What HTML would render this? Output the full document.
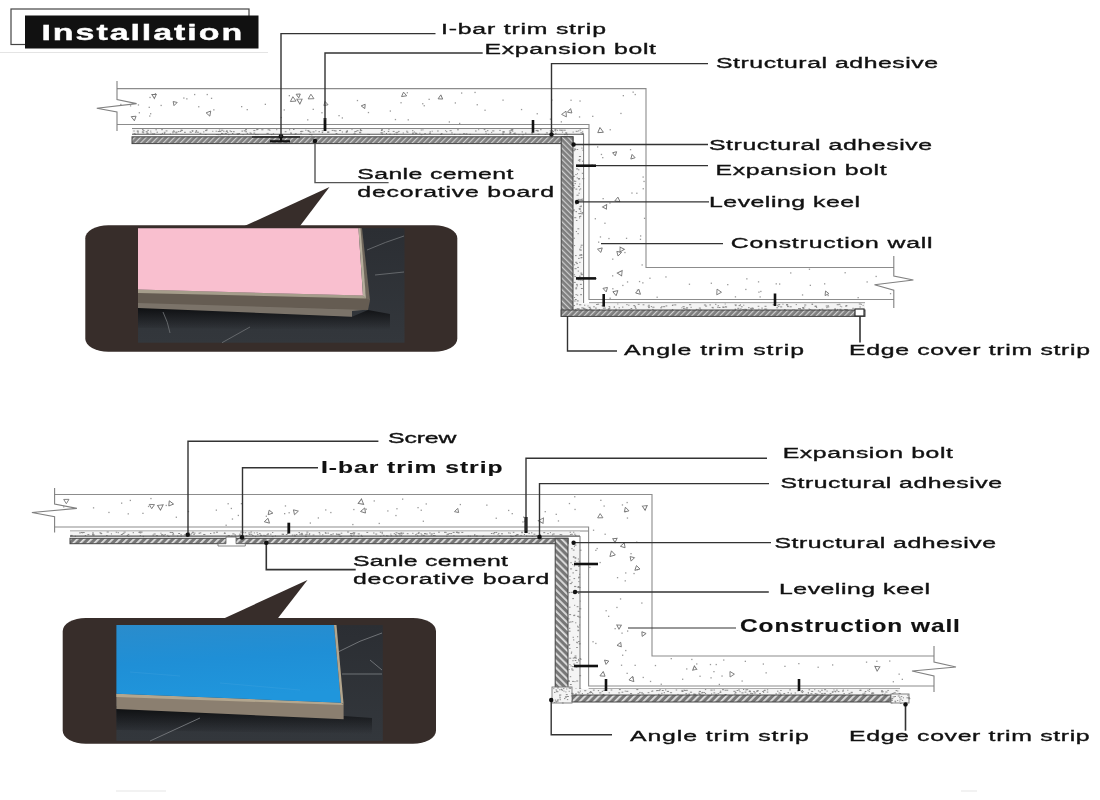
<!DOCTYPE html>
<html><head><meta charset="utf-8"><style>
html,body{margin:0;padding:0;background:#fff;width:1100px;height:800px;overflow:hidden}
svg{display:block;will-change:transform}
.lb{font-family:"Liberation Sans",sans-serif;fill:#111;stroke:#111;stroke-width:0.35px}
</style></head><body>
<svg width="1100" height="800" viewBox="0 0 1100 800">
<defs>
<pattern id="h1" patternUnits="userSpaceOnUse" width="4" height="4" patternTransform="rotate(45)"><rect width="4" height="4" fill="#7e7e7e"/><rect width="1.2" height="4" fill="#cfcfcf"/></pattern>
<pattern id="h2" patternUnits="userSpaceOnUse" width="5" height="5" patternTransform="rotate(45)"><rect width="5" height="5" fill="#777"/><rect width="1.8" height="5" fill="#e0e0e0"/></pattern>
<pattern id="h1v" patternUnits="userSpaceOnUse" width="4" height="4" patternTransform="rotate(-45)"><rect width="4" height="4" fill="#7e7e7e"/><rect width="1.2" height="4" fill="#cfcfcf"/></pattern>
<pattern id="h2v" patternUnits="userSpaceOnUse" width="5" height="5" patternTransform="rotate(-45)"><rect width="5" height="5" fill="#777"/><rect width="1.8" height="5" fill="#e0e0e0"/></pattern>
</defs>
<rect x="11" y="9" width="238" height="35.5" fill="#fff" stroke="#444" stroke-width="1.2"/>
<rect x="25" y="15.5" width="233.5" height="33" fill="#111" stroke="none" stroke-width="1"/>
<line x1="0" y1="52.5" x2="268" y2="52.5" stroke="#e4e4e4" stroke-width="1"/>
<text transform="translate(41.5,40) scale(1.58,1)" font-size="21.5" font-weight="bold" textLength="127" lengthAdjust="spacing" style="fill:#fff;stroke:#fff;stroke-width:0.4px;font-family:Liberation Sans">Installation</text>
<rect x="288.7" y="95.0" width="1.3" height="1.3" fill="#999"/>
<rect x="461.0" y="92.4" width="1.3" height="1.3" fill="#999"/>
<rect x="400.4" y="102.1" width="1.3" height="1.3" fill="#999"/>
<rect x="148.6" y="106.7" width="1.3" height="1.3" fill="#999"/>
<rect x="137.8" y="104.3" width="1.3" height="1.3" fill="#999"/>
<rect x="154.8" y="93.0" width="1.3" height="1.3" fill="#999"/>
<rect x="341.7" y="117.3" width="1.3" height="1.3" fill="#999"/>
<rect x="183.2" y="97.4" width="1.3" height="1.3" fill="#999"/>
<rect x="448.7" y="121.3" width="1.3" height="1.3" fill="#999"/>
<rect x="422.1" y="103.1" width="1.3" height="1.3" fill="#999"/>
<rect x="632.5" y="91.5" width="1.3" height="1.3" fill="#999"/>
<rect x="570.4" y="99.6" width="1.3" height="1.3" fill="#999"/>
<rect x="194.0" y="93.9" width="1.3" height="1.3" fill="#999"/>
<rect x="280.6" y="116.9" width="1.3" height="1.3" fill="#999"/>
<rect x="213.2" y="109.2" width="1.3" height="1.3" fill="#999"/>
<rect x="454.7" y="102.3" width="1.3" height="1.3" fill="#999"/>
<rect x="406.7" y="92.1" width="1.3" height="1.3" fill="#999"/>
<rect x="149.4" y="96.8" width="1.3" height="1.3" fill="#999"/>
<rect x="476.6" y="104.1" width="1.3" height="1.3" fill="#999"/>
<rect x="283.6" y="109.3" width="1.3" height="1.3" fill="#999"/>
<rect x="356.8" y="99.9" width="1.3" height="1.3" fill="#999"/>
<rect x="536.6" y="113.1" width="1.3" height="1.3" fill="#999"/>
<rect x="246.6" y="109.0" width="1.3" height="1.3" fill="#999"/>
<rect x="394.8" y="118.9" width="1.3" height="1.3" fill="#999"/>
<rect x="502.4" y="99.5" width="1.3" height="1.3" fill="#999"/>
<rect x="634.6" y="93.9" width="1.3" height="1.3" fill="#999"/>
<rect x="338.4" y="115.0" width="1.3" height="1.3" fill="#999"/>
<rect x="198.1" y="106.1" width="1.3" height="1.3" fill="#999"/>
<rect x="138.7" y="112.1" width="1.3" height="1.3" fill="#999"/>
<rect x="520.9" y="108.9" width="1.3" height="1.3" fill="#999"/>
<rect x="579.4" y="100.4" width="1.3" height="1.3" fill="#999"/>
<rect x="484.4" y="109.6" width="1.3" height="1.3" fill="#999"/>
<rect x="423.6" y="105.1" width="1.3" height="1.3" fill="#999"/>
<rect x="560.7" y="121.2" width="1.3" height="1.3" fill="#999"/>
<rect x="367.8" y="111.9" width="1.3" height="1.3" fill="#999"/>
<rect x="150.0" y="113.1" width="1.3" height="1.3" fill="#999"/>
<rect x="459.0" y="122.8" width="1.3" height="1.3" fill="#999"/>
<rect x="551.2" y="99.4" width="1.3" height="1.3" fill="#999"/>
<rect x="321.3" y="112.1" width="1.3" height="1.3" fill="#999"/>
<rect x="129.9" y="105.2" width="1.3" height="1.3" fill="#999"/>
<rect x="206.6" y="93.9" width="1.3" height="1.3" fill="#999"/>
<rect x="149.1" y="115.4" width="1.3" height="1.3" fill="#999"/>
<rect x="186.2" y="98.2" width="1.3" height="1.3" fill="#999"/>
<rect x="324.0" y="118.8" width="1.3" height="1.3" fill="#999"/>
<rect x="160.5" y="104.8" width="1.3" height="1.3" fill="#999"/>
<rect x="407.6" y="119.2" width="1.3" height="1.3" fill="#999"/>
<rect x="549.8" y="118.5" width="1.3" height="1.3" fill="#999"/>
<rect x="264.7" y="103.7" width="1.3" height="1.3" fill="#999"/>
<rect x="307.1" y="119.2" width="1.3" height="1.3" fill="#999"/>
<rect x="622.7" y="95.0" width="1.3" height="1.3" fill="#999"/>
<rect x="210.9" y="97.7" width="1.3" height="1.3" fill="#999"/>
<rect x="241.0" y="106.0" width="1.3" height="1.3" fill="#999"/>
<rect x="428.5" y="98.7" width="1.3" height="1.3" fill="#999"/>
<rect x="120.2" y="103.8" width="1.3" height="1.3" fill="#999"/>
<rect x="312.6" y="108.7" width="1.3" height="1.3" fill="#999"/>
<rect x="620.3" y="112.8" width="1.3" height="1.3" fill="#999"/>
<rect x="389.7" y="110.4" width="1.3" height="1.3" fill="#999"/>
<rect x="474.4" y="91.8" width="1.3" height="1.3" fill="#999"/>
<rect x="592.1" y="115.7" width="1.3" height="1.3" fill="#999"/>
<rect x="578.9" y="116.3" width="1.3" height="1.3" fill="#999"/>
<path d="M325.6,101.7 L327.9,105.3 L323.4,105.3Z" transform="rotate(228 325.6 104.0)" fill="none" stroke="#777" stroke-width="0.9"/>
<path d="M154.3,93.3 L156.7,97.1 L151.9,97.1Z" transform="rotate(58 154.3 95.7)" fill="none" stroke="#777" stroke-width="0.9"/>
<path d="M298.5,93.1 L300.7,96.6 L296.3,96.6Z" transform="rotate(54 298.5 95.3)" fill="none" stroke="#777" stroke-width="0.9"/>
<path d="M174.7,100.9 L176.9,104.4 L172.4,104.4Z" transform="rotate(315 174.7 103.1)" fill="none" stroke="#777" stroke-width="0.9"/>
<path d="M440.7,95.3 L443.1,99.2 L438.3,99.2Z" transform="rotate(125 440.7 97.7)" fill="none" stroke="#777" stroke-width="0.9"/>
<path d="M311.0,94.2 L313.9,98.8 L308.1,98.8Z" transform="rotate(358 311.0 97.1)" fill="none" stroke="#777" stroke-width="0.9"/>
<path d="M363.8,103.8 L366.1,107.5 L361.6,107.5Z" transform="rotate(37 363.8 106.1)" fill="none" stroke="#777" stroke-width="0.9"/>
<path d="M299.8,97.8 L302.7,102.3 L297.0,102.3Z" transform="rotate(58 299.8 100.6)" fill="none" stroke="#777" stroke-width="0.9"/>
<path d="M134.0,115.2 L136.6,119.3 L131.4,119.3Z" transform="rotate(53 134.0 117.8)" fill="none" stroke="#777" stroke-width="0.9"/>
<path d="M403.9,92.1 L406.5,96.2 L401.3,96.2Z" transform="rotate(352 403.9 94.7)" fill="none" stroke="#777" stroke-width="0.9"/>
<path d="M570.1,109.0 L572.5,112.9 L567.7,112.9Z" transform="rotate(132 570.1 111.4)" fill="none" stroke="#777" stroke-width="0.9"/>
<path d="M208.7,110.7 L211.3,114.9 L206.1,114.9Z" transform="rotate(280 208.7 113.3)" fill="none" stroke="#777" stroke-width="0.9"/>
<path d="M293.1,96.7 L295.9,101.3 L290.2,101.3Z" transform="rotate(355 293.1 99.6)" fill="none" stroke="#777" stroke-width="0.9"/>
<path d="M564.5,111.3 L567.4,115.9 L561.7,115.9Z" transform="rotate(266 564.5 114.2)" fill="none" stroke="#777" stroke-width="0.9"/>
<rect x="602.5" y="198.0" width="1.3" height="1.3" fill="#999"/>
<rect x="609.6" y="129.1" width="1.3" height="1.3" fill="#999"/>
<rect x="591.5" y="164.4" width="1.3" height="1.3" fill="#999"/>
<rect x="604.3" y="222.6" width="1.3" height="1.3" fill="#999"/>
<rect x="642.6" y="188.1" width="1.3" height="1.3" fill="#999"/>
<rect x="641.5" y="264.3" width="1.3" height="1.3" fill="#999"/>
<rect x="642.5" y="176.4" width="1.3" height="1.3" fill="#999"/>
<rect x="602.1" y="157.0" width="1.3" height="1.3" fill="#999"/>
<rect x="600.8" y="153.8" width="1.3" height="1.3" fill="#999"/>
<rect x="624.3" y="251.9" width="1.3" height="1.3" fill="#999"/>
<rect x="636.2" y="192.6" width="1.3" height="1.3" fill="#999"/>
<rect x="625.9" y="237.7" width="1.3" height="1.3" fill="#999"/>
<rect x="594.7" y="218.1" width="1.3" height="1.3" fill="#999"/>
<rect x="640.0" y="235.3" width="1.3" height="1.3" fill="#999"/>
<rect x="631.3" y="192.4" width="1.3" height="1.3" fill="#999"/>
<rect x="599.8" y="236.3" width="1.3" height="1.3" fill="#999"/>
<rect x="608.3" y="237.9" width="1.3" height="1.3" fill="#999"/>
<rect x="643.4" y="180.8" width="1.3" height="1.3" fill="#999"/>
<rect x="612.1" y="258.5" width="1.3" height="1.3" fill="#999"/>
<rect x="629.9" y="149.0" width="1.3" height="1.3" fill="#999"/>
<rect x="597.0" y="146.3" width="1.3" height="1.3" fill="#999"/>
<rect x="639.8" y="238.7" width="1.3" height="1.3" fill="#999"/>
<rect x="598.0" y="241.5" width="1.3" height="1.3" fill="#999"/>
<rect x="643.9" y="217.7" width="1.3" height="1.3" fill="#999"/>
<rect x="609.3" y="202.4" width="1.3" height="1.3" fill="#999"/>
<path d="M600.2,127.9 L603.1,132.7 L597.2,132.7Z" transform="rotate(234 600.2 130.9)" fill="none" stroke="#777" stroke-width="0.9"/>
<path d="M618.7,250.6 L621.3,254.7 L616.2,254.7Z" transform="rotate(314 618.7 253.2)" fill="none" stroke="#777" stroke-width="0.9"/>
<path d="M632.8,154.7 L635.2,158.5 L630.4,158.5Z" transform="rotate(105 632.8 157.1)" fill="none" stroke="#777" stroke-width="0.9"/>
<path d="M605.3,204.6 L607.7,208.4 L602.9,208.4Z" transform="rotate(151 605.3 207.0)" fill="none" stroke="#777" stroke-width="0.9"/>
<path d="M600.2,247.5 L602.6,251.5 L597.7,251.5Z" transform="rotate(165 600.2 250.0)" fill="none" stroke="#777" stroke-width="0.9"/>
<path d="M621.4,246.7 L624.0,250.8 L618.9,250.8Z" transform="rotate(330 621.4 249.3)" fill="none" stroke="#777" stroke-width="0.9"/>
<path d="M617.6,197.1 L620.2,201.3 L615.0,201.3Z" transform="rotate(7 617.6 199.7)" fill="none" stroke="#777" stroke-width="0.9"/>
<path d="M614.7,151.2 L616.9,154.7 L612.5,154.7Z" transform="rotate(288 614.7 153.4)" fill="none" stroke="#777" stroke-width="0.9"/>
<rect x="642.2" y="282.2" width="1.3" height="1.3" fill="#999"/>
<rect x="809.7" y="284.7" width="1.3" height="1.3" fill="#999"/>
<rect x="688.8" y="283.6" width="1.3" height="1.3" fill="#999"/>
<rect x="758.3" y="291.5" width="1.3" height="1.3" fill="#999"/>
<rect x="622.2" y="284.8" width="1.3" height="1.3" fill="#999"/>
<rect x="665.3" y="276.3" width="1.3" height="1.3" fill="#999"/>
<rect x="824.0" y="283.2" width="1.3" height="1.3" fill="#999"/>
<rect x="760.2" y="290.8" width="1.3" height="1.3" fill="#999"/>
<rect x="866.5" y="281.3" width="1.3" height="1.3" fill="#999"/>
<rect x="775.6" y="283.2" width="1.3" height="1.3" fill="#999"/>
<rect x="745.2" y="288.8" width="1.3" height="1.3" fill="#999"/>
<rect x="727.1" y="284.0" width="1.3" height="1.3" fill="#999"/>
<rect x="734.8" y="296.2" width="1.3" height="1.3" fill="#999"/>
<rect x="801.9" y="294.3" width="1.3" height="1.3" fill="#999"/>
<rect x="875.5" y="275.8" width="1.3" height="1.3" fill="#999"/>
<rect x="759.5" y="296.3" width="1.3" height="1.3" fill="#999"/>
<rect x="844.5" y="272.1" width="1.3" height="1.3" fill="#999"/>
<rect x="626.9" y="281.3" width="1.3" height="1.3" fill="#999"/>
<rect x="612.0" y="275.2" width="1.3" height="1.3" fill="#999"/>
<rect x="612.2" y="288.1" width="1.3" height="1.3" fill="#999"/>
<rect x="827.5" y="294.9" width="1.3" height="1.3" fill="#999"/>
<rect x="636.8" y="289.5" width="1.3" height="1.3" fill="#999"/>
<rect x="790.1" y="272.3" width="1.3" height="1.3" fill="#999"/>
<rect x="857.5" y="297.0" width="1.3" height="1.3" fill="#999"/>
<rect x="656.5" y="296.6" width="1.3" height="1.3" fill="#999"/>
<rect x="710.7" y="282.6" width="1.3" height="1.3" fill="#999"/>
<rect x="889.9" y="293.0" width="1.3" height="1.3" fill="#999"/>
<rect x="638.9" y="280.9" width="1.3" height="1.3" fill="#999"/>
<rect x="746.2" y="278.2" width="1.3" height="1.3" fill="#999"/>
<rect x="649.3" y="277.6" width="1.3" height="1.3" fill="#999"/>
<rect x="808.8" y="268.6" width="1.3" height="1.3" fill="#999"/>
<rect x="757.9" y="281.2" width="1.3" height="1.3" fill="#999"/>
<rect x="595.5" y="277.9" width="1.3" height="1.3" fill="#999"/>
<rect x="779.0" y="283.4" width="1.3" height="1.3" fill="#999"/>
<rect x="609.5" y="297.6" width="1.3" height="1.3" fill="#999"/>
<path d="M826.6,291.1 L828.9,294.7 L824.3,294.7Z" transform="rotate(96 826.6 293.4)" fill="none" stroke="#777" stroke-width="0.9"/>
<path d="M605.7,286.7 L608.1,290.6 L603.3,290.6Z" transform="rotate(47 605.7 289.1)" fill="none" stroke="#777" stroke-width="0.9"/>
<path d="M718.6,289.2 L721.4,293.8 L715.7,293.8Z" transform="rotate(93 718.6 292.1)" fill="none" stroke="#777" stroke-width="0.9"/>
<path d="M638.1,289.6 L640.7,293.8 L635.4,293.8Z" transform="rotate(252 638.1 292.2)" fill="none" stroke="#777" stroke-width="0.9"/>
<path d="M620.4,270.5 L623.1,274.9 L617.6,274.9Z" transform="rotate(153 620.4 273.3)" fill="none" stroke="#777" stroke-width="0.9"/>
<path d="M615.4,289.9 L618.1,294.3 L612.7,294.3Z" transform="rotate(289 615.4 292.6)" fill="none" stroke="#777" stroke-width="0.9"/>
<polyline points="117,88.6 646,88.6 646,267.5 894,267.5" stroke="#8c8c8c" stroke-width="1.1" fill="none"/>
<polyline points="117,124.5 589,124.5 589,299.5 894,299.5" stroke="#8c8c8c" stroke-width="1.1" fill="none"/>
<polyline points="117,81 117,99.5 136.6,103.6 96.8,108.2 117,112 117,131" stroke="#808080" stroke-width="1.1" fill="none"/>
<polyline points="893.8,256 893.8,276 913.4,280 874.5,284.7 893.8,290.2 893.8,308" stroke="#808080" stroke-width="1.1" fill="none"/>
<line x1="132" y1="128.5" x2="589" y2="128.5" stroke="#888" stroke-width="1"/>
<rect x="132" y="129" width="451.6" height="5.300000000000011" fill="#f4f4f4" stroke="none" stroke-width="1"/>
<rect x="169.8" y="133.5" width="1.1" height="1" fill="#8a8a8a"/>
<rect x="521.6" y="131.4" width="1.4" height="1" fill="#8a8a8a"/>
<rect x="381.8" y="133.9" width="1.3" height="1" fill="#8a8a8a"/>
<rect x="190.4" y="131.8" width="1.3" height="1" fill="#8a8a8a"/>
<rect x="181.4" y="129.9" width="1.1" height="1" fill="#8a8a8a"/>
<rect x="223.1" y="130.7" width="1.4" height="1" fill="#8a8a8a"/>
<rect x="475.0" y="130.5" width="1.6" height="1" fill="#8a8a8a"/>
<rect x="212.3" y="130.8" width="1.0" height="1" fill="#8a8a8a"/>
<rect x="245.1" y="129.1" width="1.9" height="1" fill="#8a8a8a"/>
<rect x="380.9" y="130.0" width="1.6" height="1" fill="#8a8a8a"/>
<rect x="554.1" y="129.6" width="2.0" height="1" fill="#8a8a8a"/>
<rect x="327.2" y="131.6" width="2.0" height="1" fill="#8a8a8a"/>
<rect x="309.5" y="131.7" width="1.8" height="1" fill="#8a8a8a"/>
<rect x="575.7" y="130.8" width="2.0" height="1" fill="#8a8a8a"/>
<rect x="451.2" y="132.4" width="1.5" height="1" fill="#8a8a8a"/>
<rect x="289.0" y="129.3" width="1.2" height="1" fill="#8a8a8a"/>
<rect x="163.9" y="132.9" width="1.3" height="1" fill="#8a8a8a"/>
<rect x="205.7" y="129.4" width="2.0" height="1" fill="#8a8a8a"/>
<rect x="525.1" y="132.6" width="1.3" height="1" fill="#8a8a8a"/>
<rect x="241.4" y="130.6" width="1.6" height="1" fill="#8a8a8a"/>
<rect x="203.1" y="131.4" width="1.3" height="1" fill="#8a8a8a"/>
<rect x="566.3" y="134.2" width="1.7" height="1" fill="#8a8a8a"/>
<rect x="242.4" y="134.1" width="1.4" height="1" fill="#8a8a8a"/>
<rect x="293.0" y="129.0" width="1.5" height="1" fill="#8a8a8a"/>
<rect x="346.3" y="131.7" width="1.2" height="1" fill="#8a8a8a"/>
<rect x="359.9" y="129.0" width="1.3" height="1" fill="#8a8a8a"/>
<rect x="172.5" y="131.1" width="1.1" height="1" fill="#8a8a8a"/>
<rect x="142.2" y="130.6" width="1.3" height="1" fill="#8a8a8a"/>
<rect x="396.4" y="131.8" width="1.9" height="1" fill="#8a8a8a"/>
<rect x="428.9" y="132.8" width="2.1" height="1" fill="#8a8a8a"/>
<rect x="307.9" y="130.7" width="2.2" height="1" fill="#8a8a8a"/>
<rect x="199.5" y="132.8" width="1.8" height="1" fill="#8a8a8a"/>
<rect x="151.8" y="133.4" width="2.1" height="1" fill="#8a8a8a"/>
<rect x="415.3" y="132.9" width="2.0" height="1" fill="#8a8a8a"/>
<rect x="194.9" y="131.8" width="1.6" height="1" fill="#8a8a8a"/>
<rect x="509.1" y="133.3" width="2.0" height="1" fill="#8a8a8a"/>
<rect x="395.8" y="133.7" width="1.8" height="1" fill="#8a8a8a"/>
<rect x="445.1" y="130.2" width="1.0" height="1" fill="#8a8a8a"/>
<rect x="192.1" y="130.9" width="1.1" height="1" fill="#8a8a8a"/>
<rect x="509.5" y="132.0" width="1.8" height="1" fill="#8a8a8a"/>
<rect x="414.8" y="132.6" width="1.6" height="1" fill="#8a8a8a"/>
<rect x="133.5" y="133.2" width="1.9" height="1" fill="#8a8a8a"/>
<rect x="359.1" y="131.8" width="1.8" height="1" fill="#8a8a8a"/>
<rect x="161.8" y="132.9" width="1.3" height="1" fill="#8a8a8a"/>
<rect x="165.6" y="130.4" width="1.9" height="1" fill="#8a8a8a"/>
<rect x="224.7" y="132.9" width="2.2" height="1" fill="#8a8a8a"/>
<rect x="355.1" y="131.0" width="1.6" height="1" fill="#8a8a8a"/>
<rect x="440.8" y="133.1" width="1.7" height="1" fill="#8a8a8a"/>
<rect x="422.3" y="129.4" width="1.2" height="1" fill="#8a8a8a"/>
<rect x="246.7" y="132.9" width="1.4" height="1" fill="#8a8a8a"/>
<rect x="388.4" y="129.1" width="1.1" height="1" fill="#8a8a8a"/>
<rect x="253.4" y="132.6" width="1.8" height="1" fill="#8a8a8a"/>
<rect x="437.1" y="130.5" width="1.6" height="1" fill="#8a8a8a"/>
<rect x="341.8" y="131.5" width="1.1" height="1" fill="#8a8a8a"/>
<rect x="535.6" y="130.1" width="2.2" height="1" fill="#8a8a8a"/>
<rect x="554.8" y="129.1" width="1.6" height="1" fill="#8a8a8a"/>
<rect x="502.3" y="134.1" width="1.5" height="1" fill="#8a8a8a"/>
<rect x="253.3" y="130.1" width="2.1" height="1" fill="#8a8a8a"/>
<rect x="227.2" y="132.1" width="1.2" height="1" fill="#8a8a8a"/>
<rect x="368.7" y="134.0" width="1.2" height="1" fill="#8a8a8a"/>
<rect x="502.4" y="131.7" width="2.1" height="1" fill="#8a8a8a"/>
<rect x="449.6" y="130.2" width="2.1" height="1" fill="#8a8a8a"/>
<rect x="351.5" y="129.1" width="1.0" height="1" fill="#8a8a8a"/>
<rect x="354.0" y="131.4" width="1.4" height="1" fill="#8a8a8a"/>
<rect x="195.5" y="130.8" width="1.4" height="1" fill="#8a8a8a"/>
<rect x="511.4" y="129.0" width="1.9" height="1" fill="#8a8a8a"/>
<rect x="510.9" y="129.6" width="2.1" height="1" fill="#8a8a8a"/>
<rect x="454.0" y="133.8" width="1.3" height="1" fill="#8a8a8a"/>
<rect x="300.1" y="131.1" width="2.2" height="1" fill="#8a8a8a"/>
<rect x="398.1" y="130.9" width="1.5" height="1" fill="#8a8a8a"/>
<rect x="256.3" y="129.3" width="1.1" height="1" fill="#8a8a8a"/>
<rect x="508.9" y="130.5" width="2.1" height="1" fill="#8a8a8a"/>
<rect x="244.6" y="130.4" width="1.6" height="1" fill="#8a8a8a"/>
<rect x="217.7" y="131.0" width="2.1" height="1" fill="#8a8a8a"/>
<rect x="531.3" y="133.3" width="1.8" height="1" fill="#8a8a8a"/>
<rect x="544.5" y="134.0" width="1.7" height="1" fill="#8a8a8a"/>
<rect x="457.0" y="129.3" width="1.9" height="1" fill="#8a8a8a"/>
<rect x="335.6" y="133.0" width="1.8" height="1" fill="#8a8a8a"/>
<rect x="261.3" y="129.3" width="2.1" height="1" fill="#8a8a8a"/>
<rect x="189.5" y="131.5" width="1.4" height="1" fill="#8a8a8a"/>
<rect x="266.5" y="132.9" width="2.2" height="1" fill="#8a8a8a"/>
<rect x="249.5" y="132.5" width="1.4" height="1" fill="#8a8a8a"/>
<rect x="383.7" y="131.1" width="1.2" height="1" fill="#8a8a8a"/>
<rect x="205.0" y="130.1" width="2.1" height="1" fill="#8a8a8a"/>
<rect x="356.5" y="130.2" width="2.1" height="1" fill="#8a8a8a"/>
<rect x="582.0" y="131.4" width="1.2" height="1" fill="#8a8a8a"/>
<rect x="218.9" y="129.5" width="1.4" height="1" fill="#8a8a8a"/>
<rect x="173.1" y="130.3" width="1.3" height="1" fill="#8a8a8a"/>
<rect x="389.2" y="133.7" width="1.9" height="1" fill="#8a8a8a"/>
<rect x="318.4" y="131.2" width="1.6" height="1" fill="#8a8a8a"/>
<rect x="302.2" y="130.8" width="1.1" height="1" fill="#8a8a8a"/>
<rect x="257.3" y="134.1" width="1.2" height="1" fill="#8a8a8a"/>
<rect x="359.3" y="132.3" width="2.0" height="1" fill="#8a8a8a"/>
<rect x="229.5" y="130.4" width="1.3" height="1" fill="#8a8a8a"/>
<rect x="312.5" y="131.4" width="2.1" height="1" fill="#8a8a8a"/>
<rect x="515.3" y="133.6" width="1.0" height="1" fill="#8a8a8a"/>
<rect x="146.6" y="132.8" width="2.1" height="1" fill="#8a8a8a"/>
<rect x="345.7" y="132.1" width="1.0" height="1" fill="#8a8a8a"/>
<rect x="308.8" y="133.9" width="2.0" height="1" fill="#8a8a8a"/>
<rect x="518.3" y="134.2" width="1.3" height="1" fill="#8a8a8a"/>
<rect x="181.2" y="129.8" width="1.6" height="1" fill="#8a8a8a"/>
<rect x="440.0" y="134.0" width="1.9" height="1" fill="#8a8a8a"/>
<rect x="424.3" y="133.1" width="1.5" height="1" fill="#8a8a8a"/>
<rect x="381.1" y="129.2" width="1.9" height="1" fill="#8a8a8a"/>
<rect x="237.0" y="133.9" width="1.8" height="1" fill="#8a8a8a"/>
<rect x="269.2" y="129.7" width="1.3" height="1" fill="#8a8a8a"/>
<rect x="419.3" y="132.7" width="1.1" height="1" fill="#8a8a8a"/>
<rect x="163.8" y="131.8" width="1.7" height="1" fill="#8a8a8a"/>
<rect x="307.3" y="130.2" width="1.7" height="1" fill="#8a8a8a"/>
<rect x="136.7" y="130.6" width="1.6" height="1" fill="#8a8a8a"/>
<rect x="565.1" y="132.4" width="2.1" height="1" fill="#8a8a8a"/>
<rect x="346.6" y="130.2" width="1.3" height="1" fill="#8a8a8a"/>
<rect x="565.8" y="132.7" width="1.4" height="1" fill="#8a8a8a"/>
<rect x="141.8" y="131.6" width="1.8" height="1" fill="#8a8a8a"/>
<rect x="321.7" y="130.4" width="1.8" height="1" fill="#8a8a8a"/>
<rect x="549.8" y="130.2" width="1.0" height="1" fill="#8a8a8a"/>
<rect x="284.7" y="131.2" width="1.8" height="1" fill="#8a8a8a"/>
<rect x="221.5" y="133.2" width="1.9" height="1" fill="#8a8a8a"/>
<rect x="360.0" y="130.1" width="2.2" height="1" fill="#8a8a8a"/>
<rect x="272.8" y="133.3" width="1.3" height="1" fill="#8a8a8a"/>
<rect x="232.0" y="133.0" width="1.4" height="1" fill="#8a8a8a"/>
<rect x="561.9" y="131.6" width="1.2" height="1" fill="#8a8a8a"/>
<rect x="232.9" y="131.2" width="1.8" height="1" fill="#8a8a8a"/>
<rect x="560.5" y="129.8" width="1.5" height="1" fill="#8a8a8a"/>
<rect x="228.2" y="134.2" width="1.2" height="1" fill="#8a8a8a"/>
<rect x="155.4" y="129.3" width="1.5" height="1" fill="#8a8a8a"/>
<rect x="537.6" y="133.7" width="1.9" height="1" fill="#8a8a8a"/>
<rect x="582.5" y="133.9" width="1.4" height="1" fill="#8a8a8a"/>
<rect x="215.8" y="134.0" width="1.9" height="1" fill="#8a8a8a"/>
<rect x="146.4" y="132.5" width="1.5" height="1" fill="#8a8a8a"/>
<rect x="300.8" y="130.8" width="1.2" height="1" fill="#8a8a8a"/>
<rect x="133.3" y="130.5" width="1.4" height="1" fill="#8a8a8a"/>
<rect x="563.5" y="129.7" width="2.2" height="1" fill="#8a8a8a"/>
<rect x="225.7" y="130.9" width="2.0" height="1" fill="#8a8a8a"/>
<rect x="503.2" y="131.3" width="1.1" height="1" fill="#8a8a8a"/>
<rect x="345.8" y="131.0" width="2.1" height="1" fill="#8a8a8a"/>
<rect x="219.2" y="130.9" width="2.1" height="1" fill="#8a8a8a"/>
<rect x="145.7" y="131.2" width="2.0" height="1" fill="#8a8a8a"/>
<rect x="478.2" y="129.2" width="1.0" height="1" fill="#8a8a8a"/>
<rect x="160.3" y="133.9" width="1.3" height="1" fill="#8a8a8a"/>
<rect x="469.5" y="133.8" width="1.4" height="1" fill="#8a8a8a"/>
<rect x="255.0" y="134.1" width="1.7" height="1" fill="#8a8a8a"/>
<rect x="250.4" y="132.8" width="1.4" height="1" fill="#8a8a8a"/>
<rect x="256.5" y="129.0" width="1.9" height="1" fill="#8a8a8a"/>
<rect x="545.9" y="132.4" width="2.1" height="1" fill="#8a8a8a"/>
<rect x="143.0" y="130.2" width="1.6" height="1" fill="#8a8a8a"/>
<rect x="564.1" y="134.1" width="1.5" height="1" fill="#8a8a8a"/>
<rect x="245.4" y="131.3" width="1.6" height="1" fill="#8a8a8a"/>
<rect x="551.1" y="130.0" width="2.0" height="1" fill="#8a8a8a"/>
<rect x="465.5" y="133.4" width="1.9" height="1" fill="#8a8a8a"/>
<rect x="406.2" y="130.7" width="1.4" height="1" fill="#8a8a8a"/>
<rect x="295.4" y="133.1" width="1.1" height="1" fill="#8a8a8a"/>
<rect x="221.1" y="133.0" width="1.3" height="1" fill="#8a8a8a"/>
<rect x="161.2" y="129.2" width="1.7" height="1" fill="#8a8a8a"/>
<rect x="279.1" y="134.2" width="2.1" height="1" fill="#8a8a8a"/>
<rect x="578.1" y="130.4" width="1.1" height="1" fill="#8a8a8a"/>
<rect x="175.5" y="131.6" width="1.9" height="1" fill="#8a8a8a"/>
<rect x="333.8" y="130.2" width="1.5" height="1" fill="#8a8a8a"/>
<rect x="412.1" y="132.6" width="1.9" height="1" fill="#8a8a8a"/>
<rect x="514.5" y="132.5" width="1.1" height="1" fill="#8a8a8a"/>
<rect x="511.7" y="130.6" width="1.7" height="1" fill="#8a8a8a"/>
<rect x="300.4" y="132.9" width="1.2" height="1" fill="#8a8a8a"/>
<rect x="243.7" y="130.3" width="1.2" height="1" fill="#8a8a8a"/>
<rect x="531.3" y="132.1" width="1.4" height="1" fill="#8a8a8a"/>
<rect x="310.9" y="134.3" width="1.6" height="1" fill="#8a8a8a"/>
<rect x="236.5" y="133.3" width="1.8" height="1" fill="#8a8a8a"/>
<rect x="579.5" y="129.5" width="1.6" height="1" fill="#8a8a8a"/>
<rect x="501.9" y="133.5" width="2.1" height="1" fill="#8a8a8a"/>
<rect x="150.2" y="130.6" width="1.1" height="1" fill="#8a8a8a"/>
<rect x="217.6" y="134.2" width="1.7" height="1" fill="#8a8a8a"/>
<rect x="552.1" y="131.0" width="2.0" height="1" fill="#8a8a8a"/>
<rect x="334.8" y="130.4" width="1.9" height="1" fill="#8a8a8a"/>
<rect x="559.1" y="129.6" width="1.7" height="1" fill="#8a8a8a"/>
<rect x="412.0" y="130.2" width="1.4" height="1" fill="#8a8a8a"/>
<rect x="195.8" y="130.1" width="1.3" height="1" fill="#8a8a8a"/>
<rect x="402.7" y="132.5" width="1.2" height="1" fill="#8a8a8a"/>
<rect x="137.1" y="130.7" width="1.8" height="1" fill="#8a8a8a"/>
<rect x="215.6" y="130.7" width="1.2" height="1" fill="#8a8a8a"/>
<rect x="491.1" y="131.9" width="1.1" height="1" fill="#8a8a8a"/>
<rect x="177.8" y="131.1" width="1.7" height="1" fill="#8a8a8a"/>
<rect x="420.7" y="129.5" width="1.2" height="1" fill="#8a8a8a"/>
<rect x="446.0" y="131.2" width="1.3" height="1" fill="#8a8a8a"/>
<rect x="270.9" y="134.1" width="1.4" height="1" fill="#8a8a8a"/>
<rect x="387.8" y="130.9" width="1.5" height="1" fill="#8a8a8a"/>
<rect x="522.3" y="134.3" width="1.4" height="1" fill="#8a8a8a"/>
<rect x="221.1" y="132.9" width="1.2" height="1" fill="#8a8a8a"/>
<rect x="134.7" y="133.8" width="1.5" height="1" fill="#8a8a8a"/>
<rect x="502.5" y="131.2" width="2.1" height="1" fill="#8a8a8a"/>
<rect x="340.1" y="129.9" width="1.0" height="1" fill="#8a8a8a"/>
<rect x="381.1" y="132.4" width="2.1" height="1" fill="#8a8a8a"/>
<rect x="172.2" y="132.3" width="1.4" height="1" fill="#8a8a8a"/>
<rect x="359.8" y="129.8" width="1.3" height="1" fill="#8a8a8a"/>
<rect x="367.4" y="133.9" width="1.1" height="1" fill="#8a8a8a"/>
<rect x="353.5" y="133.3" width="2.2" height="1" fill="#8a8a8a"/>
<rect x="221.1" y="129.7" width="2.1" height="1" fill="#8a8a8a"/>
<rect x="572.6" y="131.6" width="1.1" height="1" fill="#8a8a8a"/>
<rect x="550.3" y="131.1" width="2.1" height="1" fill="#8a8a8a"/>
<rect x="412.1" y="133.4" width="1.2" height="1" fill="#8a8a8a"/>
<rect x="486.9" y="130.2" width="1.5" height="1" fill="#8a8a8a"/>
<rect x="514.2" y="133.4" width="1.2" height="1" fill="#8a8a8a"/>
<rect x="230.5" y="131.1" width="1.6" height="1" fill="#8a8a8a"/>
<rect x="305.2" y="129.7" width="1.3" height="1" fill="#8a8a8a"/>
<rect x="459.4" y="133.8" width="1.0" height="1" fill="#8a8a8a"/>
<rect x="386.0" y="133.0" width="1.0" height="1" fill="#8a8a8a"/>
<rect x="510.5" y="129.6" width="1.7" height="1" fill="#8a8a8a"/>
<rect x="380.4" y="132.3" width="1.4" height="1" fill="#8a8a8a"/>
<rect x="321.7" y="132.1" width="1.5" height="1" fill="#8a8a8a"/>
<rect x="429.5" y="131.4" width="1.5" height="1" fill="#8a8a8a"/>
<rect x="142.6" y="132.3" width="1.6" height="1" fill="#8a8a8a"/>
<rect x="238.2" y="133.0" width="1.9" height="1" fill="#8a8a8a"/>
<rect x="339.0" y="130.0" width="1.6" height="1" fill="#8a8a8a"/>
<rect x="180.4" y="129.7" width="1.5" height="1" fill="#8a8a8a"/>
<rect x="173.4" y="131.3" width="1.6" height="1" fill="#8a8a8a"/>
<rect x="150.4" y="132.4" width="1.1" height="1" fill="#8a8a8a"/>
<rect x="463.2" y="133.1" width="1.6" height="1" fill="#8a8a8a"/>
<rect x="156.5" y="131.7" width="1.5" height="1" fill="#8a8a8a"/>
<rect x="561.4" y="129.7" width="2.0" height="1" fill="#8a8a8a"/>
<rect x="581.8" y="132.9" width="2.0" height="1" fill="#8a8a8a"/>
<rect x="219.5" y="134.2" width="1.6" height="1" fill="#8a8a8a"/>
<rect x="564.0" y="133.9" width="1.2" height="1" fill="#8a8a8a"/>
<rect x="488.0" y="133.9" width="1.1" height="1" fill="#8a8a8a"/>
<rect x="290.5" y="133.0" width="1.2" height="1" fill="#8a8a8a"/>
<rect x="536.9" y="130.5" width="2.0" height="1" fill="#8a8a8a"/>
<rect x="196.8" y="131.7" width="2.1" height="1" fill="#8a8a8a"/>
<rect x="226.1" y="130.4" width="1.6" height="1" fill="#8a8a8a"/>
<rect x="276.1" y="129.2" width="1.2" height="1" fill="#8a8a8a"/>
<rect x="204.8" y="134.0" width="1.8" height="1" fill="#8a8a8a"/>
<rect x="536.4" y="129.9" width="1.9" height="1" fill="#8a8a8a"/>
<rect x="184.0" y="131.8" width="1.8" height="1" fill="#8a8a8a"/>
<rect x="294.5" y="133.6" width="1.7" height="1" fill="#8a8a8a"/>
<rect x="393.9" y="133.7" width="1.1" height="1" fill="#8a8a8a"/>
<rect x="580.4" y="132.3" width="1.5" height="1" fill="#8a8a8a"/>
<rect x="492.2" y="130.4" width="2.2" height="1" fill="#8a8a8a"/>
<rect x="392.7" y="130.9" width="1.9" height="1" fill="#8a8a8a"/>
<rect x="331.7" y="129.9" width="1.9" height="1" fill="#8a8a8a"/>
<rect x="153.8" y="133.3" width="1.3" height="1" fill="#8a8a8a"/>
<rect x="420.7" y="134.2" width="1.7" height="1" fill="#8a8a8a"/>
<rect x="431.7" y="130.7" width="1.0" height="1" fill="#8a8a8a"/>
<rect x="147.3" y="129.8" width="1.7" height="1" fill="#8a8a8a"/>
<rect x="327.2" y="131.7" width="2.1" height="1" fill="#8a8a8a"/>
<rect x="191.6" y="130.2" width="1.8" height="1" fill="#8a8a8a"/>
<rect x="142.1" y="129.0" width="1.4" height="1" fill="#8a8a8a"/>
<rect x="180.0" y="130.9" width="1.3" height="1" fill="#8a8a8a"/>
<rect x="395.5" y="132.1" width="1.2" height="1" fill="#8a8a8a"/>
<rect x="413.8" y="131.5" width="1.2" height="1" fill="#8a8a8a"/>
<rect x="555.0" y="130.3" width="1.2" height="1" fill="#8a8a8a"/>
<rect x="175.3" y="132.4" width="2.0" height="1" fill="#8a8a8a"/>
<rect x="485.2" y="131.1" width="1.3" height="1" fill="#8a8a8a"/>
<rect x="137.2" y="132.4" width="1.7" height="1" fill="#8a8a8a"/>
<rect x="290.2" y="132.4" width="1.5" height="1" fill="#8a8a8a"/>
<rect x="555.2" y="132.9" width="1.3" height="1" fill="#8a8a8a"/>
<rect x="540.0" y="129.2" width="1.6" height="1" fill="#8a8a8a"/>
<rect x="315.3" y="130.3" width="1.1" height="1" fill="#8a8a8a"/>
<rect x="483.7" y="129.1" width="1.7" height="1" fill="#8a8a8a"/>
<rect x="556.9" y="129.8" width="1.2" height="1" fill="#8a8a8a"/>
<rect x="406.6" y="131.7" width="1.8" height="1" fill="#8a8a8a"/>
<rect x="499.3" y="129.9" width="1.4" height="1" fill="#8a8a8a"/>
<rect x="267.6" y="129.3" width="2.1" height="1" fill="#8a8a8a"/>
<rect x="485.6" y="132.8" width="1.0" height="1" fill="#8a8a8a"/>
<rect x="513.3" y="132.9" width="1.6" height="1" fill="#8a8a8a"/>
<line x1="132" y1="134.3" x2="583.6" y2="134.3" stroke="#555" stroke-width="1.1"/>
<rect x="573" y="143.6" width="9.5" height="159.4" fill="#f4f4f4" stroke="none" stroke-width="1"/>
<rect x="580.0" y="215.7" width="1.3" height="1" fill="#8a8a8a"/>
<rect x="574.0" y="180.6" width="1.0" height="1" fill="#8a8a8a"/>
<rect x="576.2" y="263.1" width="1.8" height="1" fill="#8a8a8a"/>
<rect x="581.0" y="257.0" width="1.3" height="1" fill="#8a8a8a"/>
<rect x="578.3" y="213.1" width="1.9" height="1" fill="#8a8a8a"/>
<rect x="578.0" y="185.9" width="1.8" height="1" fill="#8a8a8a"/>
<rect x="582.2" y="178.2" width="2.1" height="1" fill="#8a8a8a"/>
<rect x="573.1" y="185.1" width="1.3" height="1" fill="#8a8a8a"/>
<rect x="580.1" y="294.2" width="1.9" height="1" fill="#8a8a8a"/>
<rect x="576.1" y="283.9" width="1.4" height="1" fill="#8a8a8a"/>
<rect x="575.3" y="288.3" width="1.8" height="1" fill="#8a8a8a"/>
<rect x="579.6" y="249.6" width="2.2" height="1" fill="#8a8a8a"/>
<rect x="577.5" y="277.4" width="1.8" height="1" fill="#8a8a8a"/>
<rect x="581.1" y="213.3" width="1.9" height="1" fill="#8a8a8a"/>
<rect x="578.4" y="192.7" width="1.3" height="1" fill="#8a8a8a"/>
<rect x="578.9" y="156.0" width="2.1" height="1" fill="#8a8a8a"/>
<rect x="574.4" y="147.9" width="1.1" height="1" fill="#8a8a8a"/>
<rect x="581.8" y="198.6" width="1.2" height="1" fill="#8a8a8a"/>
<rect x="573.3" y="150.2" width="1.8" height="1" fill="#8a8a8a"/>
<rect x="579.0" y="254.7" width="1.9" height="1" fill="#8a8a8a"/>
<rect x="573.6" y="237.7" width="1.4" height="1" fill="#8a8a8a"/>
<rect x="580.8" y="274.2" width="2.1" height="1" fill="#8a8a8a"/>
<rect x="573.6" y="281.9" width="2.1" height="1" fill="#8a8a8a"/>
<rect x="582.0" y="160.7" width="1.2" height="1" fill="#8a8a8a"/>
<rect x="574.1" y="149.1" width="2.0" height="1" fill="#8a8a8a"/>
<rect x="580.7" y="244.7" width="2.0" height="1" fill="#8a8a8a"/>
<rect x="579.0" y="189.4" width="1.1" height="1" fill="#8a8a8a"/>
<rect x="573.9" y="264.3" width="1.2" height="1" fill="#8a8a8a"/>
<rect x="576.0" y="211.1" width="1.0" height="1" fill="#8a8a8a"/>
<rect x="575.4" y="188.6" width="1.9" height="1" fill="#8a8a8a"/>
<rect x="576.5" y="194.7" width="2.2" height="1" fill="#8a8a8a"/>
<rect x="577.8" y="279.3" width="1.7" height="1" fill="#8a8a8a"/>
<rect x="573.3" y="209.4" width="1.5" height="1" fill="#8a8a8a"/>
<rect x="580.3" y="198.9" width="1.8" height="1" fill="#8a8a8a"/>
<rect x="578.1" y="178.1" width="2.0" height="1" fill="#8a8a8a"/>
<rect x="573.9" y="274.3" width="1.2" height="1" fill="#8a8a8a"/>
<rect x="573.0" y="175.8" width="1.9" height="1" fill="#8a8a8a"/>
<rect x="582.3" y="144.3" width="1.6" height="1" fill="#8a8a8a"/>
<rect x="577.7" y="270.6" width="1.2" height="1" fill="#8a8a8a"/>
<rect x="577.7" y="198.9" width="2.0" height="1" fill="#8a8a8a"/>
<rect x="575.5" y="294.1" width="1.3" height="1" fill="#8a8a8a"/>
<rect x="575.0" y="255.1" width="1.6" height="1" fill="#8a8a8a"/>
<rect x="574.0" y="245.1" width="1.1" height="1" fill="#8a8a8a"/>
<rect x="580.5" y="254.7" width="1.9" height="1" fill="#8a8a8a"/>
<rect x="579.0" y="200.3" width="1.5" height="1" fill="#8a8a8a"/>
<rect x="576.7" y="285.5" width="1.1" height="1" fill="#8a8a8a"/>
<rect x="581.4" y="147.6" width="1.2" height="1" fill="#8a8a8a"/>
<rect x="575.5" y="287.3" width="1.6" height="1" fill="#8a8a8a"/>
<rect x="576.6" y="284.5" width="1.3" height="1" fill="#8a8a8a"/>
<rect x="577.4" y="228.3" width="1.9" height="1" fill="#8a8a8a"/>
<rect x="580.2" y="246.6" width="1.4" height="1" fill="#8a8a8a"/>
<rect x="576.1" y="168.4" width="2.0" height="1" fill="#8a8a8a"/>
<rect x="579.3" y="261.9" width="1.2" height="1" fill="#8a8a8a"/>
<rect x="577.2" y="266.9" width="1.7" height="1" fill="#8a8a8a"/>
<rect x="574.2" y="217.2" width="2.1" height="1" fill="#8a8a8a"/>
<rect x="575.3" y="174.1" width="1.4" height="1" fill="#8a8a8a"/>
<rect x="579.7" y="278.1" width="1.2" height="1" fill="#8a8a8a"/>
<rect x="574.5" y="183.1" width="1.4" height="1" fill="#8a8a8a"/>
<rect x="578.0" y="169.3" width="1.4" height="1" fill="#8a8a8a"/>
<rect x="574.8" y="299.0" width="1.9" height="1" fill="#8a8a8a"/>
<rect x="574.0" y="297.0" width="1.1" height="1" fill="#8a8a8a"/>
<rect x="576.7" y="300.4" width="2.0" height="1" fill="#8a8a8a"/>
<rect x="580.0" y="212.9" width="1.2" height="1" fill="#8a8a8a"/>
<rect x="579.1" y="160.6" width="1.2" height="1" fill="#8a8a8a"/>
<rect x="576.7" y="149.0" width="1.5" height="1" fill="#8a8a8a"/>
<rect x="580.5" y="254.1" width="1.6" height="1" fill="#8a8a8a"/>
<rect x="579.0" y="217.4" width="1.2" height="1" fill="#8a8a8a"/>
<rect x="578.7" y="208.1" width="1.9" height="1" fill="#8a8a8a"/>
<rect x="581.6" y="212.1" width="1.7" height="1" fill="#8a8a8a"/>
<rect x="580.1" y="210.7" width="1.3" height="1" fill="#8a8a8a"/>
<rect x="579.9" y="283.9" width="1.9" height="1" fill="#8a8a8a"/>
<rect x="579.7" y="279.5" width="1.8" height="1" fill="#8a8a8a"/>
<rect x="579.1" y="216.0" width="1.4" height="1" fill="#8a8a8a"/>
<rect x="579.0" y="159.2" width="1.5" height="1" fill="#8a8a8a"/>
<rect x="580.4" y="257.3" width="1.8" height="1" fill="#8a8a8a"/>
<rect x="575.4" y="211.1" width="1.5" height="1" fill="#8a8a8a"/>
<rect x="578.9" y="208.8" width="1.8" height="1" fill="#8a8a8a"/>
<rect x="581.8" y="172.8" width="1.8" height="1" fill="#8a8a8a"/>
<rect x="580.4" y="205.6" width="1.6" height="1" fill="#8a8a8a"/>
<rect x="582.3" y="149.7" width="1.7" height="1" fill="#8a8a8a"/>
<rect x="574.5" y="268.2" width="2.1" height="1" fill="#8a8a8a"/>
<rect x="577.9" y="159.7" width="1.7" height="1" fill="#8a8a8a"/>
<rect x="578.1" y="257.9" width="1.6" height="1" fill="#8a8a8a"/>
<rect x="579.1" y="275.7" width="1.6" height="1" fill="#8a8a8a"/>
<rect x="576.9" y="294.7" width="1.3" height="1" fill="#8a8a8a"/>
<rect x="579.5" y="206.2" width="1.9" height="1" fill="#8a8a8a"/>
<rect x="574.2" y="300.5" width="1.4" height="1" fill="#8a8a8a"/>
<rect x="573.5" y="187.3" width="1.5" height="1" fill="#8a8a8a"/>
<rect x="573.1" y="210.3" width="1.5" height="1" fill="#8a8a8a"/>
<rect x="579.6" y="199.7" width="1.3" height="1" fill="#8a8a8a"/>
<rect x="575.1" y="261.8" width="2.1" height="1" fill="#8a8a8a"/>
<rect x="578.0" y="178.5" width="2.0" height="1" fill="#8a8a8a"/>
<rect x="576.7" y="177.4" width="1.2" height="1" fill="#8a8a8a"/>
<rect x="580.4" y="272.6" width="1.8" height="1" fill="#8a8a8a"/>
<rect x="577.5" y="233.2" width="1.3" height="1" fill="#8a8a8a"/>
<rect x="582.2" y="199.9" width="1.8" height="1" fill="#8a8a8a"/>
<rect x="580.8" y="273.7" width="1.6" height="1" fill="#8a8a8a"/>
<rect x="575.8" y="231.0" width="1.2" height="1" fill="#8a8a8a"/>
<rect x="580.9" y="200.1" width="2.0" height="1" fill="#8a8a8a"/>
<rect x="575.5" y="203.6" width="1.3" height="1" fill="#8a8a8a"/>
<rect x="577.0" y="173.2" width="1.0" height="1" fill="#8a8a8a"/>
<rect x="579.9" y="188.4" width="1.3" height="1" fill="#8a8a8a"/>
<rect x="575.9" y="220.0" width="1.5" height="1" fill="#8a8a8a"/>
<rect x="579.1" y="248.7" width="1.4" height="1" fill="#8a8a8a"/>
<rect x="581.8" y="279.8" width="1.1" height="1" fill="#8a8a8a"/>
<rect x="580.9" y="288.0" width="1.9" height="1" fill="#8a8a8a"/>
<rect x="574.3" y="276.1" width="1.8" height="1" fill="#8a8a8a"/>
<rect x="573.1" y="145.4" width="2.1" height="1" fill="#8a8a8a"/>
<rect x="579.2" y="183.5" width="1.1" height="1" fill="#8a8a8a"/>
<rect x="574.4" y="180.8" width="1.9" height="1" fill="#8a8a8a"/>
<line x1="583.6" y1="134.3" x2="583.6" y2="303" stroke="#777" stroke-width="1"/>
<line x1="589" y1="302.8" x2="865" y2="302.8" stroke="#888" stroke-width="1"/>
<rect x="573" y="303.4" width="292" height="6.600000000000023" fill="#f4f4f4" stroke="none" stroke-width="1"/>
<rect x="674.2" y="304.4" width="2.1" height="1" fill="#8a8a8a"/>
<rect x="804.2" y="304.5" width="2.1" height="1" fill="#8a8a8a"/>
<rect x="750.6" y="308.6" width="1.8" height="1" fill="#8a8a8a"/>
<rect x="834.0" y="308.6" width="2.0" height="1" fill="#8a8a8a"/>
<rect x="630.6" y="308.0" width="1.6" height="1" fill="#8a8a8a"/>
<rect x="789.6" y="306.3" width="2.1" height="1" fill="#8a8a8a"/>
<rect x="735.1" y="305.1" width="1.3" height="1" fill="#8a8a8a"/>
<rect x="613.7" y="306.7" width="1.1" height="1" fill="#8a8a8a"/>
<rect x="709.4" y="304.4" width="1.6" height="1" fill="#8a8a8a"/>
<rect x="718.5" y="307.0" width="2.0" height="1" fill="#8a8a8a"/>
<rect x="574.9" y="308.9" width="1.6" height="1" fill="#8a8a8a"/>
<rect x="737.3" y="307.8" width="2.0" height="1" fill="#8a8a8a"/>
<rect x="682.5" y="306.2" width="2.2" height="1" fill="#8a8a8a"/>
<rect x="595.0" y="307.6" width="1.8" height="1" fill="#8a8a8a"/>
<rect x="581.3" y="307.4" width="1.8" height="1" fill="#8a8a8a"/>
<rect x="845.0" y="305.6" width="2.2" height="1" fill="#8a8a8a"/>
<rect x="722.1" y="306.6" width="2.1" height="1" fill="#8a8a8a"/>
<rect x="582.9" y="308.1" width="1.8" height="1" fill="#8a8a8a"/>
<rect x="671.9" y="309.1" width="1.4" height="1" fill="#8a8a8a"/>
<rect x="711.6" y="306.9" width="1.9" height="1" fill="#8a8a8a"/>
<rect x="634.5" y="306.3" width="1.5" height="1" fill="#8a8a8a"/>
<rect x="734.8" y="308.9" width="1.4" height="1" fill="#8a8a8a"/>
<rect x="814.7" y="306.1" width="1.6" height="1" fill="#8a8a8a"/>
<rect x="652.3" y="306.7" width="2.2" height="1" fill="#8a8a8a"/>
<rect x="764.1" y="308.6" width="1.4" height="1" fill="#8a8a8a"/>
<rect x="665.6" y="305.4" width="1.7" height="1" fill="#8a8a8a"/>
<rect x="758.4" y="308.6" width="1.0" height="1" fill="#8a8a8a"/>
<rect x="784.0" y="309.2" width="1.7" height="1" fill="#8a8a8a"/>
<rect x="587.5" y="305.4" width="1.0" height="1" fill="#8a8a8a"/>
<rect x="628.5" y="309.5" width="1.7" height="1" fill="#8a8a8a"/>
<rect x="765.1" y="308.6" width="2.1" height="1" fill="#8a8a8a"/>
<rect x="751.6" y="307.5" width="1.8" height="1" fill="#8a8a8a"/>
<rect x="776.3" y="307.3" width="1.8" height="1" fill="#8a8a8a"/>
<rect x="635.1" y="307.8" width="1.5" height="1" fill="#8a8a8a"/>
<rect x="795.7" y="304.1" width="1.2" height="1" fill="#8a8a8a"/>
<rect x="583.8" y="308.5" width="2.1" height="1" fill="#8a8a8a"/>
<rect x="764.5" y="305.8" width="2.0" height="1" fill="#8a8a8a"/>
<rect x="802.7" y="307.1" width="1.3" height="1" fill="#8a8a8a"/>
<rect x="661.2" y="306.2" width="1.4" height="1" fill="#8a8a8a"/>
<rect x="698.8" y="307.6" width="2.1" height="1" fill="#8a8a8a"/>
<rect x="588.9" y="307.1" width="1.0" height="1" fill="#8a8a8a"/>
<rect x="607.7" y="308.7" width="1.7" height="1" fill="#8a8a8a"/>
<rect x="841.2" y="306.3" width="1.0" height="1" fill="#8a8a8a"/>
<rect x="686.0" y="307.3" width="2.1" height="1" fill="#8a8a8a"/>
<rect x="859.4" y="306.5" width="1.5" height="1" fill="#8a8a8a"/>
<rect x="602.8" y="307.7" width="1.3" height="1" fill="#8a8a8a"/>
<rect x="617.3" y="303.5" width="1.0" height="1" fill="#8a8a8a"/>
<rect x="772.7" y="304.2" width="2.2" height="1" fill="#8a8a8a"/>
<rect x="598.7" y="309.1" width="1.2" height="1" fill="#8a8a8a"/>
<rect x="578.2" y="308.1" width="1.3" height="1" fill="#8a8a8a"/>
<rect x="787.2" y="304.6" width="1.1" height="1" fill="#8a8a8a"/>
<rect x="799.0" y="308.1" width="2.0" height="1" fill="#8a8a8a"/>
<rect x="786.1" y="304.0" width="1.8" height="1" fill="#8a8a8a"/>
<rect x="780.1" y="306.4" width="2.1" height="1" fill="#8a8a8a"/>
<rect x="647.2" y="309.8" width="1.9" height="1" fill="#8a8a8a"/>
<rect x="576.3" y="303.5" width="1.8" height="1" fill="#8a8a8a"/>
<rect x="811.7" y="303.9" width="1.4" height="1" fill="#8a8a8a"/>
<rect x="786.0" y="304.5" width="2.0" height="1" fill="#8a8a8a"/>
<rect x="715.0" y="303.8" width="1.4" height="1" fill="#8a8a8a"/>
<rect x="740.9" y="306.3" width="1.8" height="1" fill="#8a8a8a"/>
<rect x="615.3" y="308.7" width="1.4" height="1" fill="#8a8a8a"/>
<rect x="761.3" y="307.6" width="1.5" height="1" fill="#8a8a8a"/>
<rect x="685.6" y="308.6" width="2.1" height="1" fill="#8a8a8a"/>
<rect x="802.1" y="307.1" width="1.4" height="1" fill="#8a8a8a"/>
<rect x="590.7" y="309.8" width="1.8" height="1" fill="#8a8a8a"/>
<rect x="814.6" y="305.6" width="1.7" height="1" fill="#8a8a8a"/>
<rect x="858.4" y="308.9" width="1.7" height="1" fill="#8a8a8a"/>
<rect x="663.1" y="306.2" width="2.1" height="1" fill="#8a8a8a"/>
<rect x="683.0" y="307.9" width="1.7" height="1" fill="#8a8a8a"/>
<rect x="834.7" y="308.7" width="1.3" height="1" fill="#8a8a8a"/>
<rect x="573.5" y="305.1" width="1.5" height="1" fill="#8a8a8a"/>
<rect x="744.3" y="308.8" width="2.1" height="1" fill="#8a8a8a"/>
<rect x="585.4" y="308.9" width="2.0" height="1" fill="#8a8a8a"/>
<rect x="826.2" y="307.2" width="1.3" height="1" fill="#8a8a8a"/>
<rect x="821.5" y="308.7" width="1.8" height="1" fill="#8a8a8a"/>
<rect x="839.8" y="305.7" width="1.1" height="1" fill="#8a8a8a"/>
<rect x="734.7" y="308.7" width="1.2" height="1" fill="#8a8a8a"/>
<rect x="792.1" y="309.5" width="1.3" height="1" fill="#8a8a8a"/>
<rect x="750.2" y="307.9" width="1.6" height="1" fill="#8a8a8a"/>
<rect x="633.3" y="305.1" width="1.9" height="1" fill="#8a8a8a"/>
<rect x="804.2" y="306.4" width="1.1" height="1" fill="#8a8a8a"/>
<rect x="808.5" y="308.5" width="1.3" height="1" fill="#8a8a8a"/>
<rect x="742.2" y="309.3" width="2.1" height="1" fill="#8a8a8a"/>
<rect x="725.4" y="306.5" width="1.7" height="1" fill="#8a8a8a"/>
<rect x="628.2" y="304.7" width="1.2" height="1" fill="#8a8a8a"/>
<rect x="777.7" y="305.8" width="1.7" height="1" fill="#8a8a8a"/>
<rect x="690.5" y="306.8" width="1.2" height="1" fill="#8a8a8a"/>
<rect x="586.0" y="310.0" width="1.4" height="1" fill="#8a8a8a"/>
<rect x="604.0" y="307.6" width="1.9" height="1" fill="#8a8a8a"/>
<rect x="618.6" y="307.3" width="1.4" height="1" fill="#8a8a8a"/>
<rect x="724.7" y="303.5" width="1.0" height="1" fill="#8a8a8a"/>
<rect x="862.2" y="309.1" width="1.6" height="1" fill="#8a8a8a"/>
<rect x="738.6" y="305.1" width="1.9" height="1" fill="#8a8a8a"/>
<rect x="697.4" y="309.6" width="1.9" height="1" fill="#8a8a8a"/>
<rect x="812.1" y="309.8" width="1.3" height="1" fill="#8a8a8a"/>
<rect x="584.1" y="304.7" width="1.2" height="1" fill="#8a8a8a"/>
<rect x="597.4" y="303.7" width="1.7" height="1" fill="#8a8a8a"/>
<rect x="827.2" y="306.4" width="2.1" height="1" fill="#8a8a8a"/>
<rect x="838.7" y="303.8" width="1.7" height="1" fill="#8a8a8a"/>
<rect x="689.0" y="304.2" width="2.2" height="1" fill="#8a8a8a"/>
<rect x="648.1" y="307.1" width="1.8" height="1" fill="#8a8a8a"/>
<rect x="852.3" y="307.8" width="1.5" height="1" fill="#8a8a8a"/>
<rect x="703.9" y="304.5" width="2.2" height="1" fill="#8a8a8a"/>
<rect x="862.6" y="304.9" width="1.0" height="1" fill="#8a8a8a"/>
<rect x="647.7" y="305.7" width="2.1" height="1" fill="#8a8a8a"/>
<rect x="837.1" y="308.9" width="1.1" height="1" fill="#8a8a8a"/>
<rect x="802.6" y="308.1" width="1.8" height="1" fill="#8a8a8a"/>
<rect x="860.7" y="303.8" width="1.2" height="1" fill="#8a8a8a"/>
<rect x="793.4" y="309.6" width="1.8" height="1" fill="#8a8a8a"/>
<rect x="660.2" y="307.3" width="1.9" height="1" fill="#8a8a8a"/>
<rect x="603.8" y="305.5" width="1.3" height="1" fill="#8a8a8a"/>
<rect x="609.2" y="306.6" width="1.2" height="1" fill="#8a8a8a"/>
<rect x="642.6" y="304.3" width="1.8" height="1" fill="#8a8a8a"/>
<rect x="576.7" y="308.1" width="1.2" height="1" fill="#8a8a8a"/>
<rect x="583.5" y="309.5" width="1.3" height="1" fill="#8a8a8a"/>
<rect x="845.7" y="309.1" width="2.1" height="1" fill="#8a8a8a"/>
<rect x="613.8" y="306.4" width="1.1" height="1" fill="#8a8a8a"/>
<rect x="844.2" y="309.0" width="1.8" height="1" fill="#8a8a8a"/>
<rect x="705.1" y="305.6" width="2.0" height="1" fill="#8a8a8a"/>
<rect x="712.4" y="307.5" width="1.2" height="1" fill="#8a8a8a"/>
<rect x="637.7" y="303.8" width="1.9" height="1" fill="#8a8a8a"/>
<rect x="734.6" y="304.4" width="2.0" height="1" fill="#8a8a8a"/>
<rect x="650.8" y="306.1" width="1.2" height="1" fill="#8a8a8a"/>
<rect x="652.2" y="308.9" width="1.4" height="1" fill="#8a8a8a"/>
<rect x="622.0" y="306.6" width="1.4" height="1" fill="#8a8a8a"/>
<rect x="836.7" y="304.2" width="2.2" height="1" fill="#8a8a8a"/>
<rect x="589.6" y="309.3" width="1.8" height="1" fill="#8a8a8a"/>
<rect x="634.7" y="306.6" width="1.3" height="1" fill="#8a8a8a"/>
<rect x="648.3" y="304.7" width="1.4" height="1" fill="#8a8a8a"/>
<rect x="862.4" y="310.0" width="2.1" height="1" fill="#8a8a8a"/>
<rect x="601.5" y="305.3" width="2.1" height="1" fill="#8a8a8a"/>
<rect x="589.8" y="308.2" width="1.4" height="1" fill="#8a8a8a"/>
<rect x="858.8" y="303.5" width="2.0" height="1" fill="#8a8a8a"/>
<rect x="672.5" y="304.3" width="1.0" height="1" fill="#8a8a8a"/>
<rect x="816.0" y="306.9" width="1.2" height="1" fill="#8a8a8a"/>
<rect x="700.1" y="309.4" width="1.3" height="1" fill="#8a8a8a"/>
<rect x="739.8" y="304.3" width="1.2" height="1" fill="#8a8a8a"/>
<rect x="798.0" y="308.1" width="1.2" height="1" fill="#8a8a8a"/>
<rect x="596.1" y="304.0" width="1.7" height="1" fill="#8a8a8a"/>
<rect x="717.7" y="305.2" width="1.2" height="1" fill="#8a8a8a"/>
<rect x="751.8" y="308.1" width="2.0" height="1" fill="#8a8a8a"/>
<rect x="743.2" y="304.7" width="1.1" height="1" fill="#8a8a8a"/>
<rect x="787.0" y="306.1" width="1.9" height="1" fill="#8a8a8a"/>
<rect x="589.2" y="308.8" width="1.4" height="1" fill="#8a8a8a"/>
<rect x="818.8" y="309.1" width="1.6" height="1" fill="#8a8a8a"/>
<rect x="577.5" y="309.4" width="1.6" height="1" fill="#8a8a8a"/>
<rect x="827.6" y="305.2" width="1.2" height="1" fill="#8a8a8a"/>
<rect x="815.8" y="305.8" width="1.2" height="1" fill="#8a8a8a"/>
<rect x="681.4" y="307.3" width="1.0" height="1" fill="#8a8a8a"/>
<rect x="724.8" y="306.3" width="1.6" height="1" fill="#8a8a8a"/>
<rect x="608.3" y="308.1" width="2.0" height="1" fill="#8a8a8a"/>
<rect x="825.7" y="305.5" width="1.9" height="1" fill="#8a8a8a"/>
<rect x="684.4" y="308.4" width="1.1" height="1" fill="#8a8a8a"/>
<rect x="827.9" y="309.7" width="1.6" height="1" fill="#8a8a8a"/>
<rect x="722.9" y="306.9" width="1.6" height="1" fill="#8a8a8a"/>
<rect x="579.0" y="309.8" width="1.3" height="1" fill="#8a8a8a"/>
<rect x="626.3" y="304.1" width="1.3" height="1" fill="#8a8a8a"/>
<rect x="811.6" y="303.6" width="1.1" height="1" fill="#8a8a8a"/>
<rect x="777.1" y="304.7" width="1.0" height="1" fill="#8a8a8a"/>
<rect x="748.0" y="307.2" width="1.6" height="1" fill="#8a8a8a"/>
<rect x="778.2" y="304.1" width="2.0" height="1" fill="#8a8a8a"/>
<rect x="782.4" y="303.7" width="1.1" height="1" fill="#8a8a8a"/>
<rect x="717.1" y="306.7" width="1.3" height="1" fill="#8a8a8a"/>
<rect x="608.6" y="306.1" width="1.2" height="1" fill="#8a8a8a"/>
<rect x="745.8" y="309.1" width="1.2" height="1" fill="#8a8a8a"/>
<rect x="740.3" y="308.3" width="1.2" height="1" fill="#8a8a8a"/>
<rect x="814.2" y="309.6" width="1.5" height="1" fill="#8a8a8a"/>
<rect x="695.8" y="308.9" width="1.6" height="1" fill="#8a8a8a"/>
<rect x="688.5" y="309.6" width="1.9" height="1" fill="#8a8a8a"/>
<rect x="671.9" y="305.0" width="1.4" height="1" fill="#8a8a8a"/>
<rect x="700.2" y="309.9" width="2.0" height="1" fill="#8a8a8a"/>
<rect x="839.5" y="308.8" width="2.0" height="1" fill="#8a8a8a"/>
<rect x="588.6" y="306.8" width="2.1" height="1" fill="#8a8a8a"/>
<rect x="845.8" y="305.0" width="1.5" height="1" fill="#8a8a8a"/>
<rect x="757.7" y="305.8" width="1.6" height="1" fill="#8a8a8a"/>
<rect x="593.2" y="306.3" width="1.6" height="1" fill="#8a8a8a"/>
<rect x="579.1" y="304.3" width="2.2" height="1" fill="#8a8a8a"/>
<rect x="799.8" y="309.6" width="1.8" height="1" fill="#8a8a8a"/>
<rect x="809.3" y="309.2" width="2.1" height="1" fill="#8a8a8a"/>
<rect x="583.0" y="307.6" width="1.3" height="1" fill="#8a8a8a"/>
<rect x="132" y="136.8" width="441" height="6.799999999999983" fill="url(#h1)" stroke="#444" stroke-width="1"/>
<rect x="561.2" y="136.8" width="11.799999999999955" height="179.59999999999997" fill="url(#h1v)" stroke="#444" stroke-width="1"/>
<rect x="561.2" y="310" width="303.79999999999995" height="6.399999999999977" fill="url(#h1)" stroke="#444" stroke-width="1"/>
<rect x="855" y="309" width="9" height="7" fill="#fff" stroke="#333" stroke-width="1.2"/>
<line x1="533" y1="120" x2="533" y2="132.7" stroke="#111" stroke-width="2.6"/>
<line x1="325" y1="118" x2="325" y2="131" stroke="#111" stroke-width="2.8"/>
<line x1="576" y1="165.7" x2="596" y2="165.7" stroke="#111" stroke-width="2.6"/>
<line x1="576" y1="278.4" x2="596" y2="278.4" stroke="#111" stroke-width="2.6"/>
<line x1="603.7" y1="294" x2="603.7" y2="306.6" stroke="#111" stroke-width="2.6"/>
<line x1="775" y1="293.5" x2="775" y2="306" stroke="#111" stroke-width="2.6"/>
<line x1="270" y1="141.3" x2="290" y2="141.3" stroke="#111" stroke-width="2.2"/>
<line x1="281" y1="136" x2="281" y2="141.3" stroke="#111" stroke-width="2.2"/>
<line x1="252" y1="137" x2="300" y2="137" stroke="#222" stroke-width="1.4"/>
<circle cx="281" cy="136.3" r="2.4" fill="#111"/>
<polyline points="281,137 281,33.6 435.5,33.6" stroke="#333" stroke-width="1.4" fill="none"/>
<polyline points="325,120 325,53 482.7,53" stroke="#333" stroke-width="1.4" fill="none"/>
<polyline points="551.5,134.5 551.5,63.6 708,63.6" stroke="#333" stroke-width="1.4" fill="none"/>
<circle cx="551.5" cy="134.5" r="2.2" fill="#111"/>
<line x1="573.6" y1="144.5" x2="708" y2="144.5" stroke="#333" stroke-width="1.4"/>
<circle cx="573.6" cy="144.5" r="2.2" fill="#111"/>
<line x1="596" y1="165.7" x2="708" y2="165.7" stroke="#333" stroke-width="1.3"/>
<line x1="577" y1="201.9" x2="709" y2="201.9" stroke="#333" stroke-width="1.4"/>
<circle cx="577" cy="201.9" r="2.2" fill="#111"/>
<line x1="601" y1="243.6" x2="723" y2="243.6" stroke="#333" stroke-width="1.1"/>
<polyline points="315,141 315,182.6 388.6,182.6" stroke="#555" stroke-width="1.4" fill="none"/>
<circle cx="315" cy="141" r="2.3" fill="#111"/>
<polyline points="567.5,316 567.5,351 617,351" stroke="#333" stroke-width="1.4" fill="none"/>
<line x1="860" y1="316" x2="860" y2="342.5" stroke="#333" stroke-width="1.6"/>
<text transform="translate(441.0,34.0) scale(1.6,1)" x="0" y="0" font-size="15.5" font-weight="normal" textLength="103.1" lengthAdjust="spacing" class="lb">I-bar trim strip</text>
<text transform="translate(484.5,53.6) scale(1.6,1)" x="0" y="0" font-size="15.5" font-weight="normal" textLength="107.2" lengthAdjust="spacing" class="lb">Expansion bolt</text>
<text transform="translate(716.0,67.5) scale(1.6,1)" x="0" y="0" font-size="15.5" font-weight="normal" textLength="138.8" lengthAdjust="spacing" class="lb">Structural adhesive</text>
<text transform="translate(709.0,149.5) scale(1.6,1)" x="0" y="0" font-size="15.5" font-weight="normal" textLength="139.4" lengthAdjust="spacing" class="lb">Structural adhesive</text>
<text transform="translate(715.6,174.8) scale(1.6,1)" x="0" y="0" font-size="15.5" font-weight="normal" textLength="106.9" lengthAdjust="spacing" class="lb">Expansion bolt</text>
<text transform="translate(709.0,206.7) scale(1.6,1)" x="0" y="0" font-size="15.5" font-weight="normal" textLength="94.4" lengthAdjust="spacing" class="lb">Leveling keel</text>
<text transform="translate(730.7,247.7) scale(1.6,1)" x="0" y="0" font-size="15.5" font-weight="normal" textLength="126.2" lengthAdjust="spacing" class="lb">Construction wall</text>
<text transform="translate(357.3,179.0) scale(1.6,1)" x="0" y="0" font-size="15.5" font-weight="normal" textLength="97.5" lengthAdjust="spacing" class="lb">Sanle cement</text>
<text transform="translate(357.3,197.0) scale(1.6,1)" x="0" y="0" font-size="15.5" font-weight="normal" textLength="122.9" lengthAdjust="spacing" class="lb">decorative board</text>
<text transform="translate(624.0,355.0) scale(1.6,1)" x="0" y="0" font-size="15.5" font-weight="normal" textLength="112.5" lengthAdjust="spacing" class="lb">Angle trim strip</text>
<text transform="translate(849.0,355.0) scale(1.6,1)" x="0" y="0" font-size="15.5" font-weight="normal" textLength="150.6" lengthAdjust="spacing" class="lb">Edge cover trim strip</text>
<defs><linearGradient id="bg1" x1="0" y1="0" x2="0" y2="1"><stop offset="0" stop-color="#2b2e33"/><stop offset="1" stop-color="#33373c"/></linearGradient><linearGradient id="sh1" x1="0" y1="0" x2="0" y2="1"><stop offset="0" stop-color="#0c0d0f"/><stop offset="1" stop-color="#0c0d0f" stop-opacity="0"/></linearGradient></defs>
<path d="M244.5,226 L329.5,187 L300,226 Z" fill="#372d2a"/>
<rect x="85.3" y="225.3" width="372" height="126.5" rx="23" ry="13" fill="#372d2a"/>
<rect x="138" y="228.2" width="266.5" height="114.5" fill="url(#bg1)"/>
<path d="M138,306 L352,316.7 L368,310 L390,314 L390,330 L138,328Z" fill="url(#sh1)"/>
<path d="M367,250 Q385,242 404,236 M375,275 L404,272 M163,312 Q168,322 170,333 M222,342.7 L250,327" stroke="#6a6d71" stroke-width="0.9" fill="none"/>
<path d="M138,302 L368,309.5 L352,311 L352,316.7 L138,308Z" fill="#7b7369"/>
<path d="M138,289.6 L363,295.6 L370,300.5 L368,310 L138,303 Z" fill="#655c52"/>
<path d="M138,289.6 L363,295.6 L366,298.5 L138,293 Z" fill="#a59d8b"/>
<path d="M358.5,228.2 L362,228.2 L370,300.5 L366,298.5 Z" fill="#6f675c"/>
<path d="M138,228.2 L358.5,228.2 L363,295.6 L138,289.6 Z" fill="#f9bfcf"/>
<path d="M358.5,228.2 L360.5,228.2 L366,298.5 L363,295.6 Z" fill="#b5ad9b"/>
<rect x="459.7" y="503.9" width="1.3" height="1.3" fill="#999"/>
<rect x="378.6" y="522.8" width="1.3" height="1.3" fill="#999"/>
<rect x="425.6" y="503.3" width="1.3" height="1.3" fill="#999"/>
<rect x="365.6" y="508.6" width="1.3" height="1.3" fill="#999"/>
<rect x="621.8" y="504.3" width="1.3" height="1.3" fill="#999"/>
<rect x="237.7" y="514.8" width="1.3" height="1.3" fill="#999"/>
<rect x="127.6" y="513.2" width="1.3" height="1.3" fill="#999"/>
<rect x="624.9" y="510.9" width="1.3" height="1.3" fill="#999"/>
<rect x="215.7" y="509.5" width="1.3" height="1.3" fill="#999"/>
<rect x="373.6" y="500.3" width="1.3" height="1.3" fill="#999"/>
<rect x="129.7" y="499.8" width="1.3" height="1.3" fill="#999"/>
<rect x="230.7" y="507.8" width="1.3" height="1.3" fill="#999"/>
<rect x="227.5" y="503.1" width="1.3" height="1.3" fill="#999"/>
<rect x="108.3" y="511.8" width="1.3" height="1.3" fill="#999"/>
<rect x="555.6" y="513.7" width="1.3" height="1.3" fill="#999"/>
<rect x="395.3" y="514.9" width="1.3" height="1.3" fill="#999"/>
<rect x="175.7" y="516.6" width="1.3" height="1.3" fill="#999"/>
<rect x="330.2" y="511.9" width="1.3" height="1.3" fill="#999"/>
<rect x="420.6" y="509.6" width="1.3" height="1.3" fill="#999"/>
<rect x="240.8" y="503.0" width="1.3" height="1.3" fill="#999"/>
<rect x="187.8" y="510.9" width="1.3" height="1.3" fill="#999"/>
<rect x="284.0" y="513.0" width="1.3" height="1.3" fill="#999"/>
<rect x="63.1" y="506.2" width="1.3" height="1.3" fill="#999"/>
<rect x="568.8" y="502.9" width="1.3" height="1.3" fill="#999"/>
<rect x="387.2" y="510.3" width="1.3" height="1.3" fill="#999"/>
<rect x="225.5" y="524.6" width="1.3" height="1.3" fill="#999"/>
<rect x="231.8" y="518.4" width="1.3" height="1.3" fill="#999"/>
<rect x="150.3" y="497.9" width="1.3" height="1.3" fill="#999"/>
<rect x="574.4" y="508.8" width="1.3" height="1.3" fill="#999"/>
<rect x="92.9" y="507.2" width="1.3" height="1.3" fill="#999"/>
<rect x="317.7" y="517.3" width="1.3" height="1.3" fill="#999"/>
<rect x="121.0" y="502.5" width="1.3" height="1.3" fill="#999"/>
<rect x="626.8" y="517.4" width="1.3" height="1.3" fill="#999"/>
<rect x="147.9" y="505.8" width="1.3" height="1.3" fill="#999"/>
<rect x="265.7" y="515.6" width="1.3" height="1.3" fill="#999"/>
<rect x="422.7" y="520.6" width="1.3" height="1.3" fill="#999"/>
<rect x="544.6" y="511.0" width="1.3" height="1.3" fill="#999"/>
<rect x="495.6" y="517.6" width="1.3" height="1.3" fill="#999"/>
<rect x="508.0" y="509.8" width="1.3" height="1.3" fill="#999"/>
<rect x="523.0" y="516.5" width="1.3" height="1.3" fill="#999"/>
<rect x="600.2" y="499.7" width="1.3" height="1.3" fill="#999"/>
<rect x="574.1" y="496.1" width="1.3" height="1.3" fill="#999"/>
<rect x="511.6" y="513.0" width="1.3" height="1.3" fill="#999"/>
<rect x="352.2" y="523.9" width="1.3" height="1.3" fill="#999"/>
<rect x="396.3" y="508.1" width="1.3" height="1.3" fill="#999"/>
<rect x="522.3" y="521.3" width="1.3" height="1.3" fill="#999"/>
<rect x="417.4" y="507.0" width="1.3" height="1.3" fill="#999"/>
<rect x="325.1" y="509.3" width="1.3" height="1.3" fill="#999"/>
<rect x="486.2" y="504.5" width="1.3" height="1.3" fill="#999"/>
<rect x="288.5" y="512.1" width="1.3" height="1.3" fill="#999"/>
<rect x="284.8" y="505.3" width="1.3" height="1.3" fill="#999"/>
<rect x="524.3" y="520.6" width="1.3" height="1.3" fill="#999"/>
<rect x="353.2" y="508.9" width="1.3" height="1.3" fill="#999"/>
<rect x="165.6" y="504.8" width="1.3" height="1.3" fill="#999"/>
<rect x="142.3" y="512.7" width="1.3" height="1.3" fill="#999"/>
<rect x="402.0" y="498.5" width="1.3" height="1.3" fill="#999"/>
<rect x="603.5" y="505.4" width="1.3" height="1.3" fill="#999"/>
<rect x="557.8" y="520.3" width="1.3" height="1.3" fill="#999"/>
<rect x="626.5" y="501.9" width="1.3" height="1.3" fill="#999"/>
<rect x="309.7" y="522.4" width="1.3" height="1.3" fill="#999"/>
<path d="M66.3,498.3 L68.9,502.6 L63.6,502.6Z" transform="rotate(179 66.3 501.0)" fill="none" stroke="#777" stroke-width="0.9"/>
<path d="M600.2,513.6 L602.9,517.8 L597.6,517.8Z" transform="rotate(359 600.2 516.2)" fill="none" stroke="#777" stroke-width="0.9"/>
<path d="M363.7,508.1 L366.5,512.5 L361.0,512.5Z" transform="rotate(140 363.7 510.9)" fill="none" stroke="#777" stroke-width="0.9"/>
<path d="M270.0,510.0 L272.5,514.0 L267.5,514.0Z" transform="rotate(341 270.0 512.5)" fill="none" stroke="#777" stroke-width="0.9"/>
<path d="M457.1,508.8 L459.4,512.4 L454.8,512.4Z" transform="rotate(135 457.1 511.0)" fill="none" stroke="#777" stroke-width="0.9"/>
<path d="M295.3,509.1 L298.0,513.4 L292.7,513.4Z" transform="rotate(317 295.3 511.8)" fill="none" stroke="#777" stroke-width="0.9"/>
<path d="M626.1,507.7 L628.7,511.8 L623.6,511.8Z" transform="rotate(225 626.1 510.2)" fill="none" stroke="#777" stroke-width="0.9"/>
<path d="M644.7,504.6 L647.3,508.8 L642.1,508.8Z" transform="rotate(294 644.7 507.2)" fill="none" stroke="#777" stroke-width="0.9"/>
<path d="M160.2,503.7 L163.2,508.5 L157.2,508.5Z" transform="rotate(297 160.2 506.7)" fill="none" stroke="#777" stroke-width="0.9"/>
<path d="M360.9,499.4 L363.8,504.1 L358.0,504.1Z" transform="rotate(248 360.9 502.3)" fill="none" stroke="#777" stroke-width="0.9"/>
<path d="M541.7,517.9 L544.6,522.5 L538.8,522.5Z" transform="rotate(152 541.7 520.8)" fill="none" stroke="#777" stroke-width="0.9"/>
<path d="M151.8,503.5 L154.4,507.7 L149.2,507.7Z" transform="rotate(182 151.8 506.1)" fill="none" stroke="#777" stroke-width="0.9"/>
<path d="M170.4,501.1 L173.1,505.5 L167.7,505.5Z" transform="rotate(217 170.4 503.8)" fill="none" stroke="#777" stroke-width="0.9"/>
<path d="M267.3,518.2 L270.0,522.5 L264.6,522.5Z" transform="rotate(15 267.3 520.9)" fill="none" stroke="#777" stroke-width="0.9"/>
<rect x="614.5" y="628.0" width="1.3" height="1.3" fill="#999"/>
<rect x="608.0" y="615.7" width="1.3" height="1.3" fill="#999"/>
<rect x="589.2" y="566.7" width="1.3" height="1.3" fill="#999"/>
<rect x="641.2" y="602.4" width="1.3" height="1.3" fill="#999"/>
<rect x="630.4" y="553.0" width="1.3" height="1.3" fill="#999"/>
<rect x="619.9" y="598.3" width="1.3" height="1.3" fill="#999"/>
<rect x="605.5" y="610.1" width="1.3" height="1.3" fill="#999"/>
<rect x="622.0" y="654.6" width="1.3" height="1.3" fill="#999"/>
<rect x="624.6" y="580.2" width="1.3" height="1.3" fill="#999"/>
<rect x="596.5" y="547.9" width="1.3" height="1.3" fill="#999"/>
<rect x="636.1" y="541.5" width="1.3" height="1.3" fill="#999"/>
<rect x="595.2" y="549.7" width="1.3" height="1.3" fill="#999"/>
<rect x="621.4" y="632.5" width="1.3" height="1.3" fill="#999"/>
<rect x="627.0" y="630.4" width="1.3" height="1.3" fill="#999"/>
<rect x="592.9" y="529.6" width="1.3" height="1.3" fill="#999"/>
<rect x="636.8" y="569.0" width="1.3" height="1.3" fill="#999"/>
<rect x="633.4" y="572.9" width="1.3" height="1.3" fill="#999"/>
<rect x="599.5" y="561.9" width="1.3" height="1.3" fill="#999"/>
<rect x="595.2" y="642.8" width="1.3" height="1.3" fill="#999"/>
<rect x="625.1" y="572.3" width="1.3" height="1.3" fill="#999"/>
<rect x="616.9" y="577.0" width="1.3" height="1.3" fill="#999"/>
<rect x="592.4" y="641.1" width="1.3" height="1.3" fill="#999"/>
<rect x="625.1" y="649.9" width="1.3" height="1.3" fill="#999"/>
<rect x="616.3" y="606.8" width="1.3" height="1.3" fill="#999"/>
<rect x="604.5" y="533.6" width="1.3" height="1.3" fill="#999"/>
<path d="M643.3,631.3 L645.7,635.2 L640.8,635.2Z" transform="rotate(324 643.3 633.7)" fill="none" stroke="#777" stroke-width="0.9"/>
<path d="M637.1,565.5 L639.7,569.7 L634.4,569.7Z" transform="rotate(346 637.1 568.1)" fill="none" stroke="#777" stroke-width="0.9"/>
<path d="M619.8,642.6 L622.2,646.5 L617.4,646.5Z" transform="rotate(140 619.8 645.0)" fill="none" stroke="#777" stroke-width="0.9"/>
<path d="M631.8,555.9 L634.2,559.8 L629.3,559.8Z" transform="rotate(315 631.8 558.3)" fill="none" stroke="#777" stroke-width="0.9"/>
<path d="M619.2,623.9 L621.6,627.8 L616.8,627.8Z" transform="rotate(62 619.2 626.3)" fill="none" stroke="#777" stroke-width="0.9"/>
<path d="M612.4,551.2 L615.3,556.0 L609.4,556.0Z" transform="rotate(105 612.4 554.2)" fill="none" stroke="#777" stroke-width="0.9"/>
<path d="M623.3,543.0 L625.9,547.2 L620.7,547.2Z" transform="rotate(139 623.3 545.7)" fill="none" stroke="#777" stroke-width="0.9"/>
<path d="M614.8,537.5 L617.1,541.2 L612.5,541.2Z" transform="rotate(297 614.8 539.8)" fill="none" stroke="#777" stroke-width="0.9"/>
<rect x="709.8" y="663.9" width="1.3" height="1.3" fill="#999"/>
<rect x="654.8" y="664.9" width="1.3" height="1.3" fill="#999"/>
<rect x="670.6" y="658.0" width="1.3" height="1.3" fill="#999"/>
<rect x="817.5" y="666.6" width="1.3" height="1.3" fill="#999"/>
<rect x="642.6" y="676.8" width="1.3" height="1.3" fill="#999"/>
<rect x="620.9" y="664.6" width="1.3" height="1.3" fill="#999"/>
<rect x="876.2" y="660.6" width="1.3" height="1.3" fill="#999"/>
<rect x="741.5" y="680.4" width="1.3" height="1.3" fill="#999"/>
<rect x="865.9" y="661.5" width="1.3" height="1.3" fill="#999"/>
<rect x="710.4" y="677.2" width="1.3" height="1.3" fill="#999"/>
<rect x="718.7" y="683.8" width="1.3" height="1.3" fill="#999"/>
<rect x="660.6" y="683.6" width="1.3" height="1.3" fill="#999"/>
<rect x="762.7" y="663.4" width="1.3" height="1.3" fill="#999"/>
<rect x="744.7" y="660.7" width="1.3" height="1.3" fill="#999"/>
<rect x="832.0" y="664.3" width="1.3" height="1.3" fill="#999"/>
<rect x="898.5" y="673.5" width="1.3" height="1.3" fill="#999"/>
<rect x="715.6" y="663.9" width="1.3" height="1.3" fill="#999"/>
<rect x="798.2" y="663.0" width="1.3" height="1.3" fill="#999"/>
<rect x="889.1" y="660.4" width="1.3" height="1.3" fill="#999"/>
<rect x="765.5" y="672.2" width="1.3" height="1.3" fill="#999"/>
<rect x="682.0" y="678.6" width="1.3" height="1.3" fill="#999"/>
<rect x="721.4" y="675.4" width="1.3" height="1.3" fill="#999"/>
<rect x="784.3" y="665.7" width="1.3" height="1.3" fill="#999"/>
<rect x="723.1" y="659.4" width="1.3" height="1.3" fill="#999"/>
<rect x="649.9" y="680.8" width="1.3" height="1.3" fill="#999"/>
<rect x="699.4" y="675.6" width="1.3" height="1.3" fill="#999"/>
<rect x="626.5" y="672.7" width="1.3" height="1.3" fill="#999"/>
<rect x="713.3" y="671.0" width="1.3" height="1.3" fill="#999"/>
<rect x="691.2" y="658.8" width="1.3" height="1.3" fill="#999"/>
<rect x="696.1" y="663.3" width="1.3" height="1.3" fill="#999"/>
<rect x="632.4" y="677.1" width="1.3" height="1.3" fill="#999"/>
<rect x="686.1" y="668.3" width="1.3" height="1.3" fill="#999"/>
<rect x="901.7" y="678.7" width="1.3" height="1.3" fill="#999"/>
<rect x="892.7" y="681.1" width="1.3" height="1.3" fill="#999"/>
<rect x="634.5" y="664.7" width="1.3" height="1.3" fill="#999"/>
<path d="M602.9,671.9 L605.7,676.2 L600.2,676.2Z" transform="rotate(127 602.9 674.6)" fill="none" stroke="#777" stroke-width="0.9"/>
<path d="M731.6,671.4 L734.4,675.8 L728.9,675.8Z" transform="rotate(89 731.6 674.2)" fill="none" stroke="#777" stroke-width="0.9"/>
<path d="M877.5,665.3 L880.2,669.7 L874.8,669.7Z" transform="rotate(65 877.5 668.0)" fill="none" stroke="#777" stroke-width="0.9"/>
<path d="M631.7,676.5 L634.5,680.9 L628.9,680.9Z" transform="rotate(257 631.7 679.3)" fill="none" stroke="#777" stroke-width="0.9"/>
<path d="M606.6,659.5 L608.9,663.2 L604.3,663.2Z" transform="rotate(71 606.6 661.8)" fill="none" stroke="#777" stroke-width="0.9"/>
<path d="M694.8,666.4 L697.1,670.0 L692.6,670.0Z" transform="rotate(112 694.8 668.6)" fill="none" stroke="#777" stroke-width="0.9"/>
<polyline points="54.6,494.5 652,494.5 652,656 934,656" stroke="#8c8c8c" stroke-width="1.1" fill="none"/>
<polyline points="54.6,527 588.6,527 588.6,686 934,686" stroke="#8c8c8c" stroke-width="1.1" fill="none"/>
<polyline points="54.6,488 54.6,504.1 76.9,508.4 31.9,512.5 54.6,516.8 54.6,532.5" stroke="#808080" stroke-width="1.1" fill="none"/>
<polyline points="934,646 934,662 956,667 912,671 934,676 934,692" stroke="#808080" stroke-width="1.1" fill="none"/>
<line x1="70" y1="531" x2="588.6" y2="531" stroke="#888" stroke-width="1"/>
<rect x="70" y="531.5" width="510" height="4.600000000000023" fill="#f4f4f4" stroke="none" stroke-width="1"/>
<rect x="395.5" y="532.3" width="2.0" height="1" fill="#8a8a8a"/>
<rect x="360.8" y="534.8" width="1.3" height="1" fill="#8a8a8a"/>
<rect x="291.8" y="534.6" width="1.4" height="1" fill="#8a8a8a"/>
<rect x="70.5" y="535.3" width="1.9" height="1" fill="#8a8a8a"/>
<rect x="216.0" y="531.7" width="2.0" height="1" fill="#8a8a8a"/>
<rect x="379.8" y="531.7" width="1.3" height="1" fill="#8a8a8a"/>
<rect x="126.7" y="535.1" width="1.3" height="1" fill="#8a8a8a"/>
<rect x="536.4" y="534.9" width="1.1" height="1" fill="#8a8a8a"/>
<rect x="424.3" y="533.3" width="1.9" height="1" fill="#8a8a8a"/>
<rect x="492.7" y="532.8" width="1.1" height="1" fill="#8a8a8a"/>
<rect x="552.6" y="533.5" width="2.1" height="1" fill="#8a8a8a"/>
<rect x="422.7" y="534.9" width="2.0" height="1" fill="#8a8a8a"/>
<rect x="390.3" y="533.6" width="1.1" height="1" fill="#8a8a8a"/>
<rect x="426.1" y="533.5" width="1.6" height="1" fill="#8a8a8a"/>
<rect x="543.3" y="532.1" width="1.9" height="1" fill="#8a8a8a"/>
<rect x="92.3" y="534.7" width="2.0" height="1" fill="#8a8a8a"/>
<rect x="203.2" y="534.0" width="2.2" height="1" fill="#8a8a8a"/>
<rect x="395.1" y="534.0" width="1.3" height="1" fill="#8a8a8a"/>
<rect x="100.3" y="533.1" width="1.5" height="1" fill="#8a8a8a"/>
<rect x="172.7" y="532.9" width="1.2" height="1" fill="#8a8a8a"/>
<rect x="430.6" y="534.6" width="1.3" height="1" fill="#8a8a8a"/>
<rect x="193.3" y="533.9" width="1.5" height="1" fill="#8a8a8a"/>
<rect x="547.3" y="533.1" width="1.4" height="1" fill="#8a8a8a"/>
<rect x="521.2" y="532.2" width="1.7" height="1" fill="#8a8a8a"/>
<rect x="240.1" y="535.3" width="1.7" height="1" fill="#8a8a8a"/>
<rect x="457.9" y="532.3" width="1.8" height="1" fill="#8a8a8a"/>
<rect x="375.3" y="533.6" width="1.9" height="1" fill="#8a8a8a"/>
<rect x="493.9" y="532.0" width="1.3" height="1" fill="#8a8a8a"/>
<rect x="253.8" y="532.4" width="1.1" height="1" fill="#8a8a8a"/>
<rect x="213.3" y="532.4" width="1.8" height="1" fill="#8a8a8a"/>
<rect x="298.5" y="532.0" width="1.4" height="1" fill="#8a8a8a"/>
<rect x="309.0" y="533.2" width="1.2" height="1" fill="#8a8a8a"/>
<rect x="106.6" y="531.5" width="2.2" height="1" fill="#8a8a8a"/>
<rect x="452.7" y="531.9" width="1.9" height="1" fill="#8a8a8a"/>
<rect x="569.9" y="534.1" width="1.1" height="1" fill="#8a8a8a"/>
<rect x="319.3" y="533.5" width="1.2" height="1" fill="#8a8a8a"/>
<rect x="347.0" y="531.5" width="2.1" height="1" fill="#8a8a8a"/>
<rect x="398.7" y="534.4" width="2.1" height="1" fill="#8a8a8a"/>
<rect x="402.8" y="532.7" width="1.3" height="1" fill="#8a8a8a"/>
<rect x="140.7" y="531.6" width="1.9" height="1" fill="#8a8a8a"/>
<rect x="498.2" y="532.9" width="1.2" height="1" fill="#8a8a8a"/>
<rect x="395.4" y="535.4" width="2.1" height="1" fill="#8a8a8a"/>
<rect x="155.9" y="535.1" width="2.0" height="1" fill="#8a8a8a"/>
<rect x="448.6" y="533.0" width="1.2" height="1" fill="#8a8a8a"/>
<rect x="490.9" y="533.0" width="1.4" height="1" fill="#8a8a8a"/>
<rect x="351.1" y="533.2" width="2.0" height="1" fill="#8a8a8a"/>
<rect x="192.1" y="531.7" width="1.7" height="1" fill="#8a8a8a"/>
<rect x="390.4" y="535.3" width="1.8" height="1" fill="#8a8a8a"/>
<rect x="531.6" y="535.8" width="1.6" height="1" fill="#8a8a8a"/>
<rect x="324.8" y="532.2" width="1.4" height="1" fill="#8a8a8a"/>
<rect x="366.4" y="531.9" width="1.8" height="1" fill="#8a8a8a"/>
<rect x="153.5" y="533.5" width="2.2" height="1" fill="#8a8a8a"/>
<rect x="115.7" y="531.7" width="1.5" height="1" fill="#8a8a8a"/>
<rect x="167.3" y="534.8" width="1.0" height="1" fill="#8a8a8a"/>
<rect x="498.8" y="535.4" width="1.9" height="1" fill="#8a8a8a"/>
<rect x="287.0" y="532.8" width="1.8" height="1" fill="#8a8a8a"/>
<rect x="332.5" y="533.4" width="1.4" height="1" fill="#8a8a8a"/>
<rect x="293.7" y="534.6" width="2.0" height="1" fill="#8a8a8a"/>
<rect x="531.0" y="532.3" width="1.4" height="1" fill="#8a8a8a"/>
<rect x="296.0" y="534.1" width="1.4" height="1" fill="#8a8a8a"/>
<rect x="169.7" y="531.9" width="1.4" height="1" fill="#8a8a8a"/>
<rect x="304.8" y="536.0" width="2.1" height="1" fill="#8a8a8a"/>
<rect x="511.4" y="536.0" width="2.2" height="1" fill="#8a8a8a"/>
<rect x="386.1" y="535.2" width="1.1" height="1" fill="#8a8a8a"/>
<rect x="415.0" y="534.3" width="1.4" height="1" fill="#8a8a8a"/>
<rect x="361.3" y="535.9" width="1.6" height="1" fill="#8a8a8a"/>
<rect x="400.2" y="532.9" width="1.4" height="1" fill="#8a8a8a"/>
<rect x="521.4" y="531.6" width="1.2" height="1" fill="#8a8a8a"/>
<rect x="416.1" y="533.6" width="1.1" height="1" fill="#8a8a8a"/>
<rect x="406.8" y="533.2" width="1.7" height="1" fill="#8a8a8a"/>
<rect x="282.4" y="533.9" width="1.7" height="1" fill="#8a8a8a"/>
<rect x="272.1" y="532.0" width="1.2" height="1" fill="#8a8a8a"/>
<rect x="523.9" y="534.0" width="1.1" height="1" fill="#8a8a8a"/>
<rect x="509.7" y="532.7" width="1.1" height="1" fill="#8a8a8a"/>
<rect x="340.7" y="532.7" width="1.6" height="1" fill="#8a8a8a"/>
<rect x="352.6" y="532.5" width="1.7" height="1" fill="#8a8a8a"/>
<rect x="127.6" y="533.9" width="1.7" height="1" fill="#8a8a8a"/>
<rect x="110.9" y="533.4" width="1.1" height="1" fill="#8a8a8a"/>
<rect x="294.2" y="535.5" width="1.7" height="1" fill="#8a8a8a"/>
<rect x="434.4" y="535.0" width="1.1" height="1" fill="#8a8a8a"/>
<rect x="575.2" y="534.8" width="1.1" height="1" fill="#8a8a8a"/>
<rect x="493.4" y="533.3" width="1.2" height="1" fill="#8a8a8a"/>
<rect x="559.6" y="534.1" width="1.9" height="1" fill="#8a8a8a"/>
<rect x="139.8" y="535.1" width="1.1" height="1" fill="#8a8a8a"/>
<rect x="190.8" y="533.2" width="1.0" height="1" fill="#8a8a8a"/>
<rect x="373.1" y="532.5" width="1.4" height="1" fill="#8a8a8a"/>
<rect x="430.8" y="533.5" width="2.1" height="1" fill="#8a8a8a"/>
<rect x="386.8" y="535.5" width="1.7" height="1" fill="#8a8a8a"/>
<rect x="537.9" y="535.5" width="1.2" height="1" fill="#8a8a8a"/>
<rect x="450.2" y="533.1" width="1.9" height="1" fill="#8a8a8a"/>
<rect x="417.1" y="535.3" width="1.1" height="1" fill="#8a8a8a"/>
<rect x="260.2" y="534.9" width="2.1" height="1" fill="#8a8a8a"/>
<rect x="438.1" y="531.7" width="1.7" height="1" fill="#8a8a8a"/>
<rect x="120.8" y="534.0" width="2.0" height="1" fill="#8a8a8a"/>
<rect x="127.6" y="535.8" width="1.8" height="1" fill="#8a8a8a"/>
<rect x="199.8" y="532.4" width="1.5" height="1" fill="#8a8a8a"/>
<rect x="497.5" y="534.2" width="1.1" height="1" fill="#8a8a8a"/>
<rect x="80.7" y="532.0" width="2.0" height="1" fill="#8a8a8a"/>
<rect x="164.5" y="534.0" width="1.3" height="1" fill="#8a8a8a"/>
<rect x="420.5" y="533.3" width="1.2" height="1" fill="#8a8a8a"/>
<rect x="516.5" y="534.0" width="1.8" height="1" fill="#8a8a8a"/>
<rect x="482.2" y="535.9" width="1.0" height="1" fill="#8a8a8a"/>
<rect x="244.6" y="532.2" width="1.6" height="1" fill="#8a8a8a"/>
<rect x="515.3" y="535.2" width="1.0" height="1" fill="#8a8a8a"/>
<rect x="163.0" y="535.3" width="1.8" height="1" fill="#8a8a8a"/>
<rect x="270.2" y="533.7" width="1.2" height="1" fill="#8a8a8a"/>
<rect x="501.0" y="533.3" width="2.0" height="1" fill="#8a8a8a"/>
<rect x="381.5" y="531.8" width="1.4" height="1" fill="#8a8a8a"/>
<rect x="180.3" y="535.6" width="1.7" height="1" fill="#8a8a8a"/>
<rect x="92.3" y="532.3" width="1.4" height="1" fill="#8a8a8a"/>
<rect x="308.6" y="534.2" width="1.5" height="1" fill="#8a8a8a"/>
<rect x="250.4" y="531.5" width="1.7" height="1" fill="#8a8a8a"/>
<rect x="240.2" y="531.6" width="1.6" height="1" fill="#8a8a8a"/>
<rect x="573.1" y="531.7" width="1.2" height="1" fill="#8a8a8a"/>
<rect x="412.2" y="532.8" width="1.3" height="1" fill="#8a8a8a"/>
<rect x="325.0" y="532.7" width="1.7" height="1" fill="#8a8a8a"/>
<rect x="339.4" y="535.9" width="2.2" height="1" fill="#8a8a8a"/>
<rect x="87.4" y="534.1" width="1.9" height="1" fill="#8a8a8a"/>
<rect x="514.9" y="535.1" width="1.8" height="1" fill="#8a8a8a"/>
<rect x="393.7" y="533.2" width="1.3" height="1" fill="#8a8a8a"/>
<rect x="475.6" y="535.5" width="2.1" height="1" fill="#8a8a8a"/>
<rect x="417.5" y="532.9" width="1.9" height="1" fill="#8a8a8a"/>
<rect x="447.2" y="533.8" width="1.8" height="1" fill="#8a8a8a"/>
<rect x="248.7" y="534.0" width="1.5" height="1" fill="#8a8a8a"/>
<rect x="100.8" y="533.1" width="1.4" height="1" fill="#8a8a8a"/>
<rect x="574.1" y="533.7" width="1.4" height="1" fill="#8a8a8a"/>
<rect x="194.1" y="532.6" width="1.4" height="1" fill="#8a8a8a"/>
<rect x="139.2" y="531.5" width="2.0" height="1" fill="#8a8a8a"/>
<rect x="301.1" y="533.5" width="1.7" height="1" fill="#8a8a8a"/>
<rect x="224.2" y="532.3" width="1.1" height="1" fill="#8a8a8a"/>
<rect x="223.8" y="532.9" width="1.9" height="1" fill="#8a8a8a"/>
<rect x="351.1" y="535.8" width="1.4" height="1" fill="#8a8a8a"/>
<rect x="539.8" y="534.2" width="1.1" height="1" fill="#8a8a8a"/>
<rect x="161.2" y="534.2" width="2.2" height="1" fill="#8a8a8a"/>
<rect x="252.1" y="535.1" width="1.5" height="1" fill="#8a8a8a"/>
<rect x="512.8" y="531.8" width="1.6" height="1" fill="#8a8a8a"/>
<rect x="528.5" y="532.8" width="1.3" height="1" fill="#8a8a8a"/>
<rect x="81.8" y="532.3" width="1.3" height="1" fill="#8a8a8a"/>
<rect x="429.2" y="532.5" width="1.5" height="1" fill="#8a8a8a"/>
<rect x="172.2" y="534.3" width="2.0" height="1" fill="#8a8a8a"/>
<rect x="400.5" y="532.4" width="1.9" height="1" fill="#8a8a8a"/>
<rect x="561.2" y="534.3" width="1.1" height="1" fill="#8a8a8a"/>
<rect x="482.8" y="535.5" width="1.4" height="1" fill="#8a8a8a"/>
<rect x="139.7" y="532.4" width="1.6" height="1" fill="#8a8a8a"/>
<rect x="516.5" y="534.4" width="2.1" height="1" fill="#8a8a8a"/>
<rect x="178.2" y="533.0" width="1.9" height="1" fill="#8a8a8a"/>
<rect x="401.0" y="533.4" width="1.8" height="1" fill="#8a8a8a"/>
<rect x="242.3" y="531.8" width="1.5" height="1" fill="#8a8a8a"/>
<rect x="93.2" y="534.4" width="1.4" height="1" fill="#8a8a8a"/>
<rect x="322.1" y="534.3" width="1.3" height="1" fill="#8a8a8a"/>
<rect x="306.3" y="531.6" width="2.1" height="1" fill="#8a8a8a"/>
<rect x="357.7" y="536.0" width="1.1" height="1" fill="#8a8a8a"/>
<rect x="383.1" y="534.8" width="1.4" height="1" fill="#8a8a8a"/>
<rect x="117.7" y="532.2" width="1.2" height="1" fill="#8a8a8a"/>
<rect x="461.3" y="531.9" width="2.0" height="1" fill="#8a8a8a"/>
<rect x="285.8" y="534.0" width="1.7" height="1" fill="#8a8a8a"/>
<rect x="353.0" y="534.5" width="1.7" height="1" fill="#8a8a8a"/>
<rect x="238.7" y="534.9" width="1.3" height="1" fill="#8a8a8a"/>
<rect x="432.8" y="535.0" width="1.9" height="1" fill="#8a8a8a"/>
<rect x="227.7" y="535.1" width="2.2" height="1" fill="#8a8a8a"/>
<rect x="301.1" y="532.8" width="1.6" height="1" fill="#8a8a8a"/>
<rect x="549.9" y="532.1" width="1.0" height="1" fill="#8a8a8a"/>
<rect x="312.6" y="534.5" width="1.9" height="1" fill="#8a8a8a"/>
<rect x="254.9" y="536.1" width="1.3" height="1" fill="#8a8a8a"/>
<rect x="455.9" y="531.9" width="1.0" height="1" fill="#8a8a8a"/>
<rect x="138.4" y="531.8" width="1.6" height="1" fill="#8a8a8a"/>
<rect x="353.2" y="532.3" width="2.1" height="1" fill="#8a8a8a"/>
<rect x="256.5" y="532.2" width="1.2" height="1" fill="#8a8a8a"/>
<rect x="446.3" y="535.7" width="1.2" height="1" fill="#8a8a8a"/>
<rect x="84.8" y="535.1" width="1.3" height="1" fill="#8a8a8a"/>
<rect x="571.0" y="533.8" width="1.8" height="1" fill="#8a8a8a"/>
<rect x="245.6" y="535.2" width="1.6" height="1" fill="#8a8a8a"/>
<rect x="235.2" y="535.7" width="1.1" height="1" fill="#8a8a8a"/>
<rect x="444.0" y="531.8" width="1.8" height="1" fill="#8a8a8a"/>
<rect x="274.9" y="535.5" width="1.1" height="1" fill="#8a8a8a"/>
<rect x="357.7" y="533.4" width="2.1" height="1" fill="#8a8a8a"/>
<rect x="551.9" y="534.4" width="1.3" height="1" fill="#8a8a8a"/>
<rect x="198.5" y="532.7" width="1.5" height="1" fill="#8a8a8a"/>
<rect x="188.0" y="532.4" width="1.9" height="1" fill="#8a8a8a"/>
<rect x="397.8" y="532.9" width="2.2" height="1" fill="#8a8a8a"/>
<rect x="180.5" y="534.1" width="1.2" height="1" fill="#8a8a8a"/>
<rect x="510.2" y="535.5" width="1.3" height="1" fill="#8a8a8a"/>
<rect x="453.3" y="535.3" width="1.3" height="1" fill="#8a8a8a"/>
<rect x="239.1" y="533.7" width="2.1" height="1" fill="#8a8a8a"/>
<rect x="152.4" y="534.6" width="1.7" height="1" fill="#8a8a8a"/>
<rect x="301.1" y="534.2" width="2.1" height="1" fill="#8a8a8a"/>
<rect x="177.0" y="535.6" width="1.4" height="1" fill="#8a8a8a"/>
<rect x="467.7" y="535.5" width="1.2" height="1" fill="#8a8a8a"/>
<rect x="510.6" y="536.1" width="1.4" height="1" fill="#8a8a8a"/>
<rect x="82.5" y="532.0" width="2.2" height="1" fill="#8a8a8a"/>
<rect x="74.8" y="535.7" width="1.2" height="1" fill="#8a8a8a"/>
<rect x="445.4" y="531.9" width="1.2" height="1" fill="#8a8a8a"/>
<rect x="418.2" y="531.9" width="1.4" height="1" fill="#8a8a8a"/>
<rect x="538.4" y="534.8" width="2.1" height="1" fill="#8a8a8a"/>
<rect x="569.6" y="531.7" width="1.3" height="1" fill="#8a8a8a"/>
<rect x="474.0" y="534.7" width="1.0" height="1" fill="#8a8a8a"/>
<rect x="327.4" y="532.6" width="1.5" height="1" fill="#8a8a8a"/>
<rect x="123.5" y="531.6" width="2.2" height="1" fill="#8a8a8a"/>
<rect x="231.4" y="535.5" width="1.1" height="1" fill="#8a8a8a"/>
<rect x="318.6" y="532.1" width="1.5" height="1" fill="#8a8a8a"/>
<rect x="161.3" y="534.7" width="1.2" height="1" fill="#8a8a8a"/>
<rect x="446.5" y="533.8" width="1.1" height="1" fill="#8a8a8a"/>
<rect x="250.3" y="533.8" width="2.1" height="1" fill="#8a8a8a"/>
<rect x="248.2" y="532.5" width="2.2" height="1" fill="#8a8a8a"/>
<rect x="520.4" y="534.9" width="1.3" height="1" fill="#8a8a8a"/>
<rect x="160.4" y="532.7" width="1.1" height="1" fill="#8a8a8a"/>
<rect x="92.0" y="533.8" width="1.5" height="1" fill="#8a8a8a"/>
<rect x="353.9" y="533.2" width="1.0" height="1" fill="#8a8a8a"/>
<rect x="421.0" y="534.5" width="1.7" height="1" fill="#8a8a8a"/>
<rect x="349.9" y="534.7" width="2.2" height="1" fill="#8a8a8a"/>
<rect x="515.8" y="534.8" width="1.5" height="1" fill="#8a8a8a"/>
<rect x="232.3" y="533.4" width="2.2" height="1" fill="#8a8a8a"/>
<rect x="267.4" y="533.3" width="1.5" height="1" fill="#8a8a8a"/>
<rect x="143.0" y="536.1" width="1.0" height="1" fill="#8a8a8a"/>
<rect x="380.0" y="535.8" width="1.3" height="1" fill="#8a8a8a"/>
<rect x="381.6" y="533.2" width="1.3" height="1" fill="#8a8a8a"/>
<rect x="171.2" y="532.0" width="2.0" height="1" fill="#8a8a8a"/>
<rect x="469.8" y="535.7" width="1.1" height="1" fill="#8a8a8a"/>
<rect x="424.0" y="533.0" width="1.8" height="1" fill="#8a8a8a"/>
<rect x="350.0" y="533.0" width="2.2" height="1" fill="#8a8a8a"/>
<rect x="70.5" y="534.9" width="2.0" height="1" fill="#8a8a8a"/>
<rect x="330.2" y="534.2" width="2.2" height="1" fill="#8a8a8a"/>
<rect x="189.6" y="534.4" width="1.9" height="1" fill="#8a8a8a"/>
<rect x="263.2" y="534.8" width="1.5" height="1" fill="#8a8a8a"/>
<rect x="338.4" y="534.3" width="1.8" height="1" fill="#8a8a8a"/>
<rect x="234.3" y="534.4" width="1.7" height="1" fill="#8a8a8a"/>
<rect x="183.9" y="534.3" width="1.3" height="1" fill="#8a8a8a"/>
<rect x="533.5" y="533.7" width="1.9" height="1" fill="#8a8a8a"/>
<rect x="336.2" y="533.7" width="1.3" height="1" fill="#8a8a8a"/>
<rect x="142.5" y="535.8" width="1.6" height="1" fill="#8a8a8a"/>
<rect x="337.2" y="533.9" width="2.0" height="1" fill="#8a8a8a"/>
<rect x="191.7" y="532.3" width="2.0" height="1" fill="#8a8a8a"/>
<rect x="304.8" y="534.4" width="2.0" height="1" fill="#8a8a8a"/>
<rect x="526.0" y="535.5" width="1.1" height="1" fill="#8a8a8a"/>
<rect x="264.4" y="535.3" width="2.0" height="1" fill="#8a8a8a"/>
<rect x="132.7" y="532.2" width="1.3" height="1" fill="#8a8a8a"/>
<rect x="122.4" y="533.1" width="2.0" height="1" fill="#8a8a8a"/>
<rect x="335.9" y="533.6" width="1.1" height="1" fill="#8a8a8a"/>
<rect x="271.7" y="536.1" width="1.8" height="1" fill="#8a8a8a"/>
<rect x="299.2" y="533.7" width="2.0" height="1" fill="#8a8a8a"/>
<rect x="457.0" y="532.2" width="1.8" height="1" fill="#8a8a8a"/>
<rect x="257.1" y="533.9" width="1.3" height="1" fill="#8a8a8a"/>
<rect x="259.1" y="533.1" width="1.5" height="1" fill="#8a8a8a"/>
<rect x="79.1" y="532.4" width="1.7" height="1" fill="#8a8a8a"/>
<rect x="99.4" y="532.3" width="1.9" height="1" fill="#8a8a8a"/>
<rect x="210.0" y="533.0" width="1.3" height="1" fill="#8a8a8a"/>
<rect x="495.4" y="531.9" width="1.8" height="1" fill="#8a8a8a"/>
<rect x="508.0" y="532.4" width="1.5" height="1" fill="#8a8a8a"/>
<rect x="474.1" y="534.3" width="1.4" height="1" fill="#8a8a8a"/>
<rect x="92.4" y="533.5" width="1.4" height="1" fill="#8a8a8a"/>
<rect x="433.4" y="532.9" width="1.5" height="1" fill="#8a8a8a"/>
<rect x="400.6" y="535.2" width="1.4" height="1" fill="#8a8a8a"/>
<rect x="266.5" y="534.2" width="2.1" height="1" fill="#8a8a8a"/>
<rect x="167.7" y="536.0" width="1.9" height="1" fill="#8a8a8a"/>
<rect x="259.9" y="534.6" width="1.4" height="1" fill="#8a8a8a"/>
<rect x="106.1" y="535.0" width="1.5" height="1" fill="#8a8a8a"/>
<rect x="338.2" y="533.8" width="2.1" height="1" fill="#8a8a8a"/>
<rect x="456.1" y="531.6" width="1.7" height="1" fill="#8a8a8a"/>
<rect x="305.9" y="533.6" width="2.0" height="1" fill="#8a8a8a"/>
<rect x="281.6" y="533.7" width="2.1" height="1" fill="#8a8a8a"/>
<line x1="70" y1="536.1" x2="580" y2="536.1" stroke="#555" stroke-width="1.1"/>
<rect x="568" y="543.7" width="12" height="145.29999999999995" fill="#f4f4f4" stroke="none" stroke-width="1"/>
<rect x="573.3" y="615.1" width="1.6" height="1" fill="#8a8a8a"/>
<rect x="577.9" y="641.1" width="1.9" height="1" fill="#8a8a8a"/>
<rect x="572.8" y="549.6" width="1.8" height="1" fill="#8a8a8a"/>
<rect x="574.6" y="655.5" width="1.9" height="1" fill="#8a8a8a"/>
<rect x="569.4" y="575.8" width="1.1" height="1" fill="#8a8a8a"/>
<rect x="577.8" y="558.5" width="1.1" height="1" fill="#8a8a8a"/>
<rect x="577.0" y="625.7" width="1.1" height="1" fill="#8a8a8a"/>
<rect x="576.2" y="647.0" width="1.6" height="1" fill="#8a8a8a"/>
<rect x="568.7" y="644.1" width="1.5" height="1" fill="#8a8a8a"/>
<rect x="575.0" y="688.7" width="2.0" height="1" fill="#8a8a8a"/>
<rect x="578.5" y="564.8" width="1.4" height="1" fill="#8a8a8a"/>
<rect x="574.2" y="544.6" width="2.2" height="1" fill="#8a8a8a"/>
<rect x="571.3" y="581.8" width="1.4" height="1" fill="#8a8a8a"/>
<rect x="571.1" y="668.5" width="1.7" height="1" fill="#8a8a8a"/>
<rect x="574.1" y="604.8" width="1.1" height="1" fill="#8a8a8a"/>
<rect x="571.7" y="669.6" width="2.0" height="1" fill="#8a8a8a"/>
<rect x="578.3" y="581.1" width="1.2" height="1" fill="#8a8a8a"/>
<rect x="568.6" y="621.7" width="1.4" height="1" fill="#8a8a8a"/>
<rect x="573.6" y="614.7" width="1.7" height="1" fill="#8a8a8a"/>
<rect x="572.4" y="660.2" width="1.2" height="1" fill="#8a8a8a"/>
<rect x="579.0" y="624.5" width="1.1" height="1" fill="#8a8a8a"/>
<rect x="571.8" y="621.2" width="1.5" height="1" fill="#8a8a8a"/>
<rect x="574.8" y="590.7" width="1.3" height="1" fill="#8a8a8a"/>
<rect x="577.6" y="586.1" width="1.9" height="1" fill="#8a8a8a"/>
<rect x="577.6" y="629.7" width="1.5" height="1" fill="#8a8a8a"/>
<rect x="579.2" y="608.3" width="2.1" height="1" fill="#8a8a8a"/>
<rect x="568.7" y="606.7" width="1.8" height="1" fill="#8a8a8a"/>
<rect x="568.6" y="669.0" width="1.1" height="1" fill="#8a8a8a"/>
<rect x="575.2" y="569.9" width="2.1" height="1" fill="#8a8a8a"/>
<rect x="574.7" y="660.0" width="1.6" height="1" fill="#8a8a8a"/>
<rect x="576.1" y="641.8" width="1.4" height="1" fill="#8a8a8a"/>
<rect x="570.5" y="665.5" width="1.2" height="1" fill="#8a8a8a"/>
<rect x="579.0" y="573.8" width="1.1" height="1" fill="#8a8a8a"/>
<rect x="569.1" y="657.7" width="2.1" height="1" fill="#8a8a8a"/>
<rect x="573.0" y="639.4" width="1.3" height="1" fill="#8a8a8a"/>
<rect x="578.9" y="643.4" width="1.2" height="1" fill="#8a8a8a"/>
<rect x="568.7" y="644.8" width="1.1" height="1" fill="#8a8a8a"/>
<rect x="578.0" y="586.4" width="1.3" height="1" fill="#8a8a8a"/>
<rect x="575.0" y="590.0" width="1.7" height="1" fill="#8a8a8a"/>
<rect x="569.8" y="676.2" width="1.4" height="1" fill="#8a8a8a"/>
<rect x="578.1" y="565.8" width="2.0" height="1" fill="#8a8a8a"/>
<rect x="579.8" y="600.6" width="1.0" height="1" fill="#8a8a8a"/>
<rect x="572.6" y="636.8" width="1.3" height="1" fill="#8a8a8a"/>
<rect x="574.5" y="557.3" width="1.6" height="1" fill="#8a8a8a"/>
<rect x="576.7" y="606.2" width="1.8" height="1" fill="#8a8a8a"/>
<rect x="569.4" y="664.1" width="1.1" height="1" fill="#8a8a8a"/>
<rect x="579.1" y="688.4" width="2.1" height="1" fill="#8a8a8a"/>
<rect x="574.3" y="585.9" width="1.4" height="1" fill="#8a8a8a"/>
<rect x="577.0" y="615.8" width="2.1" height="1" fill="#8a8a8a"/>
<rect x="569.1" y="614.1" width="2.0" height="1" fill="#8a8a8a"/>
<rect x="575.2" y="622.3" width="1.1" height="1" fill="#8a8a8a"/>
<rect x="569.7" y="583.1" width="2.1" height="1" fill="#8a8a8a"/>
<rect x="578.1" y="576.7" width="2.1" height="1" fill="#8a8a8a"/>
<rect x="568.4" y="630.7" width="2.2" height="1" fill="#8a8a8a"/>
<rect x="572.1" y="680.9" width="1.8" height="1" fill="#8a8a8a"/>
<rect x="568.6" y="592.1" width="1.5" height="1" fill="#8a8a8a"/>
<rect x="571.0" y="651.6" width="1.2" height="1" fill="#8a8a8a"/>
<rect x="577.5" y="587.0" width="1.1" height="1" fill="#8a8a8a"/>
<rect x="574.7" y="557.6" width="1.7" height="1" fill="#8a8a8a"/>
<rect x="577.5" y="630.2" width="1.6" height="1" fill="#8a8a8a"/>
<rect x="568.4" y="618.3" width="1.1" height="1" fill="#8a8a8a"/>
<rect x="575.8" y="562.9" width="1.7" height="1" fill="#8a8a8a"/>
<rect x="572.2" y="598.1" width="1.8" height="1" fill="#8a8a8a"/>
<rect x="570.0" y="568.4" width="2.1" height="1" fill="#8a8a8a"/>
<rect x="572.0" y="666.1" width="2.0" height="1" fill="#8a8a8a"/>
<rect x="573.8" y="565.4" width="1.1" height="1" fill="#8a8a8a"/>
<rect x="578.5" y="560.7" width="1.6" height="1" fill="#8a8a8a"/>
<rect x="574.4" y="560.8" width="1.6" height="1" fill="#8a8a8a"/>
<rect x="570.0" y="621.5" width="1.6" height="1" fill="#8a8a8a"/>
<rect x="572.4" y="572.4" width="1.5" height="1" fill="#8a8a8a"/>
<rect x="570.4" y="562.2" width="1.3" height="1" fill="#8a8a8a"/>
<rect x="578.5" y="616.6" width="2.1" height="1" fill="#8a8a8a"/>
<rect x="568.2" y="680.8" width="1.6" height="1" fill="#8a8a8a"/>
<rect x="577.5" y="626.6" width="1.8" height="1" fill="#8a8a8a"/>
<rect x="570.8" y="652.7" width="1.2" height="1" fill="#8a8a8a"/>
<rect x="571.2" y="548.2" width="1.5" height="1" fill="#8a8a8a"/>
<rect x="574.2" y="586.1" width="2.1" height="1" fill="#8a8a8a"/>
<rect x="569.0" y="627.8" width="1.3" height="1" fill="#8a8a8a"/>
<rect x="575.1" y="657.6" width="1.9" height="1" fill="#8a8a8a"/>
<rect x="568.7" y="579.4" width="1.7" height="1" fill="#8a8a8a"/>
<rect x="579.8" y="549.7" width="1.7" height="1" fill="#8a8a8a"/>
<rect x="576.3" y="662.1" width="1.4" height="1" fill="#8a8a8a"/>
<rect x="577.7" y="610.8" width="2.1" height="1" fill="#8a8a8a"/>
<rect x="568.1" y="680.3" width="1.5" height="1" fill="#8a8a8a"/>
<rect x="572.9" y="556.5" width="1.3" height="1" fill="#8a8a8a"/>
<rect x="576.8" y="642.3" width="1.2" height="1" fill="#8a8a8a"/>
<rect x="572.1" y="564.1" width="1.2" height="1" fill="#8a8a8a"/>
<rect x="570.6" y="591.8" width="2.2" height="1" fill="#8a8a8a"/>
<rect x="580.0" y="658.7" width="1.6" height="1" fill="#8a8a8a"/>
<rect x="574.0" y="656.9" width="2.1" height="1" fill="#8a8a8a"/>
<rect x="577.0" y="636.2" width="1.2" height="1" fill="#8a8a8a"/>
<rect x="575.5" y="666.6" width="1.9" height="1" fill="#8a8a8a"/>
<rect x="569.1" y="647.9" width="1.4" height="1" fill="#8a8a8a"/>
<rect x="569.9" y="684.0" width="1.8" height="1" fill="#8a8a8a"/>
<rect x="576.9" y="563.3" width="2.0" height="1" fill="#8a8a8a"/>
<rect x="579.2" y="675.2" width="1.9" height="1" fill="#8a8a8a"/>
<rect x="578.0" y="660.3" width="1.7" height="1" fill="#8a8a8a"/>
<rect x="573.2" y="663.6" width="1.9" height="1" fill="#8a8a8a"/>
<rect x="578.4" y="587.1" width="2.2" height="1" fill="#8a8a8a"/>
<rect x="574.4" y="681.1" width="1.1" height="1" fill="#8a8a8a"/>
<rect x="579.6" y="658.1" width="1.3" height="1" fill="#8a8a8a"/>
<rect x="578.1" y="577.4" width="1.2" height="1" fill="#8a8a8a"/>
<rect x="573.5" y="578.1" width="1.6" height="1" fill="#8a8a8a"/>
<rect x="578.9" y="643.3" width="1.9" height="1" fill="#8a8a8a"/>
<rect x="572.7" y="657.6" width="2.0" height="1" fill="#8a8a8a"/>
<rect x="576.2" y="680.5" width="2.0" height="1" fill="#8a8a8a"/>
<rect x="572.9" y="556.4" width="1.8" height="1" fill="#8a8a8a"/>
<rect x="578.0" y="593.0" width="1.7" height="1" fill="#8a8a8a"/>
<rect x="578.0" y="658.9" width="1.0" height="1" fill="#8a8a8a"/>
<rect x="573.9" y="546.1" width="1.1" height="1" fill="#8a8a8a"/>
<line x1="580" y1="536.1" x2="580" y2="689" stroke="#777" stroke-width="1"/>
<line x1="588.6" y1="688.8" x2="900" y2="688.8" stroke="#888" stroke-width="1"/>
<rect x="568" y="689" width="332" height="5" fill="#f4f4f4" stroke="none" stroke-width="1"/>
<rect x="837.7" y="691.1" width="1.7" height="1" fill="#8a8a8a"/>
<rect x="719.9" y="690.7" width="1.3" height="1" fill="#8a8a8a"/>
<rect x="685.4" y="693.2" width="1.7" height="1" fill="#8a8a8a"/>
<rect x="665.0" y="689.4" width="1.3" height="1" fill="#8a8a8a"/>
<rect x="800.8" y="691.2" width="1.8" height="1" fill="#8a8a8a"/>
<rect x="836.0" y="689.6" width="1.8" height="1" fill="#8a8a8a"/>
<rect x="581.8" y="693.1" width="1.2" height="1" fill="#8a8a8a"/>
<rect x="658.1" y="693.8" width="1.4" height="1" fill="#8a8a8a"/>
<rect x="642.4" y="693.4" width="1.7" height="1" fill="#8a8a8a"/>
<rect x="864.8" y="691.0" width="1.6" height="1" fill="#8a8a8a"/>
<rect x="885.3" y="691.5" width="2.2" height="1" fill="#8a8a8a"/>
<rect x="630.9" y="693.2" width="1.2" height="1" fill="#8a8a8a"/>
<rect x="743.0" y="689.0" width="1.2" height="1" fill="#8a8a8a"/>
<rect x="881.7" y="691.3" width="2.0" height="1" fill="#8a8a8a"/>
<rect x="651.3" y="690.8" width="1.1" height="1" fill="#8a8a8a"/>
<rect x="751.5" y="693.3" width="1.6" height="1" fill="#8a8a8a"/>
<rect x="693.1" y="693.6" width="2.1" height="1" fill="#8a8a8a"/>
<rect x="789.2" y="689.4" width="1.7" height="1" fill="#8a8a8a"/>
<rect x="715.4" y="693.8" width="1.4" height="1" fill="#8a8a8a"/>
<rect x="787.5" y="692.2" width="1.5" height="1" fill="#8a8a8a"/>
<rect x="741.4" y="692.4" width="2.1" height="1" fill="#8a8a8a"/>
<rect x="733.4" y="690.8" width="2.2" height="1" fill="#8a8a8a"/>
<rect x="586.9" y="693.2" width="1.8" height="1" fill="#8a8a8a"/>
<rect x="753.1" y="691.2" width="1.9" height="1" fill="#8a8a8a"/>
<rect x="863.8" y="692.6" width="1.9" height="1" fill="#8a8a8a"/>
<rect x="579.7" y="690.6" width="1.2" height="1" fill="#8a8a8a"/>
<rect x="884.4" y="693.5" width="1.2" height="1" fill="#8a8a8a"/>
<rect x="763.1" y="691.9" width="1.1" height="1" fill="#8a8a8a"/>
<rect x="698.2" y="692.7" width="1.8" height="1" fill="#8a8a8a"/>
<rect x="661.2" y="692.8" width="1.3" height="1" fill="#8a8a8a"/>
<rect x="748.7" y="691.1" width="2.2" height="1" fill="#8a8a8a"/>
<rect x="783.4" y="693.0" width="1.8" height="1" fill="#8a8a8a"/>
<rect x="694.3" y="693.8" width="1.9" height="1" fill="#8a8a8a"/>
<rect x="797.4" y="690.4" width="1.2" height="1" fill="#8a8a8a"/>
<rect x="759.0" y="693.1" width="2.0" height="1" fill="#8a8a8a"/>
<rect x="683.3" y="689.7" width="1.6" height="1" fill="#8a8a8a"/>
<rect x="859.3" y="689.8" width="1.9" height="1" fill="#8a8a8a"/>
<rect x="624.7" y="690.6" width="1.1" height="1" fill="#8a8a8a"/>
<rect x="666.8" y="690.9" width="2.2" height="1" fill="#8a8a8a"/>
<rect x="887.4" y="689.9" width="1.4" height="1" fill="#8a8a8a"/>
<rect x="881.3" y="690.0" width="1.4" height="1" fill="#8a8a8a"/>
<rect x="713.5" y="689.5" width="1.3" height="1" fill="#8a8a8a"/>
<rect x="698.8" y="690.9" width="2.2" height="1" fill="#8a8a8a"/>
<rect x="656.6" y="690.0" width="2.1" height="1" fill="#8a8a8a"/>
<rect x="717.5" y="693.2" width="1.8" height="1" fill="#8a8a8a"/>
<rect x="826.5" y="690.6" width="1.2" height="1" fill="#8a8a8a"/>
<rect x="819.3" y="691.4" width="1.7" height="1" fill="#8a8a8a"/>
<rect x="790.6" y="692.8" width="1.3" height="1" fill="#8a8a8a"/>
<rect x="688.4" y="693.6" width="1.6" height="1" fill="#8a8a8a"/>
<rect x="663.7" y="692.2" width="1.3" height="1" fill="#8a8a8a"/>
<rect x="824.1" y="689.2" width="2.0" height="1" fill="#8a8a8a"/>
<rect x="756.1" y="690.8" width="2.1" height="1" fill="#8a8a8a"/>
<rect x="656.2" y="690.2" width="1.1" height="1" fill="#8a8a8a"/>
<rect x="750.1" y="692.8" width="1.8" height="1" fill="#8a8a8a"/>
<rect x="705.0" y="693.0" width="1.1" height="1" fill="#8a8a8a"/>
<rect x="669.9" y="692.2" width="2.2" height="1" fill="#8a8a8a"/>
<rect x="778.5" y="692.5" width="1.9" height="1" fill="#8a8a8a"/>
<rect x="699.0" y="693.7" width="1.9" height="1" fill="#8a8a8a"/>
<rect x="681.5" y="691.0" width="2.0" height="1" fill="#8a8a8a"/>
<rect x="684.1" y="689.9" width="2.0" height="1" fill="#8a8a8a"/>
<rect x="744.6" y="691.6" width="1.8" height="1" fill="#8a8a8a"/>
<rect x="867.3" y="689.7" width="1.4" height="1" fill="#8a8a8a"/>
<rect x="589.9" y="691.1" width="1.6" height="1" fill="#8a8a8a"/>
<rect x="850.8" y="692.3" width="1.7" height="1" fill="#8a8a8a"/>
<rect x="702.0" y="691.9" width="1.3" height="1" fill="#8a8a8a"/>
<rect x="848.5" y="692.9" width="2.0" height="1" fill="#8a8a8a"/>
<rect x="618.2" y="692.4" width="1.9" height="1" fill="#8a8a8a"/>
<rect x="734.2" y="693.5" width="2.1" height="1" fill="#8a8a8a"/>
<rect x="814.7" y="693.1" width="1.8" height="1" fill="#8a8a8a"/>
<rect x="859.7" y="689.7" width="1.8" height="1" fill="#8a8a8a"/>
<rect x="801.7" y="692.1" width="1.3" height="1" fill="#8a8a8a"/>
<rect x="590.3" y="692.0" width="2.0" height="1" fill="#8a8a8a"/>
<rect x="658.6" y="690.1" width="1.3" height="1" fill="#8a8a8a"/>
<rect x="599.2" y="692.4" width="2.2" height="1" fill="#8a8a8a"/>
<rect x="834.3" y="690.8" width="1.8" height="1" fill="#8a8a8a"/>
<rect x="592.0" y="693.2" width="1.4" height="1" fill="#8a8a8a"/>
<rect x="569.1" y="692.1" width="1.2" height="1" fill="#8a8a8a"/>
<rect x="659.3" y="689.3" width="1.5" height="1" fill="#8a8a8a"/>
<rect x="752.2" y="693.0" width="1.0" height="1" fill="#8a8a8a"/>
<rect x="842.7" y="689.6" width="1.3" height="1" fill="#8a8a8a"/>
<rect x="777.0" y="690.7" width="1.4" height="1" fill="#8a8a8a"/>
<rect x="756.7" y="690.1" width="2.0" height="1" fill="#8a8a8a"/>
<rect x="637.4" y="693.2" width="2.0" height="1" fill="#8a8a8a"/>
<rect x="746.3" y="689.2" width="1.9" height="1" fill="#8a8a8a"/>
<rect x="577.4" y="691.5" width="1.5" height="1" fill="#8a8a8a"/>
<rect x="588.9" y="692.2" width="1.9" height="1" fill="#8a8a8a"/>
<rect x="762.2" y="691.0" width="1.6" height="1" fill="#8a8a8a"/>
<rect x="763.5" y="690.1" width="2.0" height="1" fill="#8a8a8a"/>
<rect x="898.6" y="693.0" width="2.2" height="1" fill="#8a8a8a"/>
<rect x="677.4" y="693.9" width="1.1" height="1" fill="#8a8a8a"/>
<rect x="726.7" y="689.7" width="1.5" height="1" fill="#8a8a8a"/>
<rect x="794.6" y="692.5" width="1.5" height="1" fill="#8a8a8a"/>
<rect x="681.4" y="689.9" width="1.5" height="1" fill="#8a8a8a"/>
<rect x="661.8" y="690.0" width="1.9" height="1" fill="#8a8a8a"/>
<rect x="739.4" y="691.2" width="1.2" height="1" fill="#8a8a8a"/>
<rect x="801.6" y="690.0" width="1.3" height="1" fill="#8a8a8a"/>
<rect x="754.0" y="692.5" width="2.2" height="1" fill="#8a8a8a"/>
<rect x="816.2" y="693.7" width="2.1" height="1" fill="#8a8a8a"/>
<rect x="807.9" y="692.6" width="1.1" height="1" fill="#8a8a8a"/>
<rect x="636.3" y="689.1" width="2.0" height="1" fill="#8a8a8a"/>
<rect x="807.7" y="692.2" width="1.3" height="1" fill="#8a8a8a"/>
<rect x="686.0" y="689.8" width="1.8" height="1" fill="#8a8a8a"/>
<rect x="897.2" y="690.5" width="1.1" height="1" fill="#8a8a8a"/>
<rect x="626.2" y="690.8" width="2.1" height="1" fill="#8a8a8a"/>
<rect x="835.1" y="691.3" width="1.1" height="1" fill="#8a8a8a"/>
<rect x="603.4" y="689.8" width="1.9" height="1" fill="#8a8a8a"/>
<rect x="724.5" y="694.0" width="2.1" height="1" fill="#8a8a8a"/>
<rect x="831.9" y="691.4" width="2.0" height="1" fill="#8a8a8a"/>
<rect x="610.6" y="689.5" width="1.7" height="1" fill="#8a8a8a"/>
<rect x="736.6" y="690.0" width="1.3" height="1" fill="#8a8a8a"/>
<rect x="575.0" y="693.5" width="1.9" height="1" fill="#8a8a8a"/>
<rect x="881.8" y="693.9" width="1.5" height="1" fill="#8a8a8a"/>
<rect x="811.2" y="690.9" width="2.0" height="1" fill="#8a8a8a"/>
<rect x="847.3" y="689.7" width="1.0" height="1" fill="#8a8a8a"/>
<rect x="639.1" y="691.9" width="1.5" height="1" fill="#8a8a8a"/>
<rect x="571.0" y="693.2" width="1.9" height="1" fill="#8a8a8a"/>
<rect x="722.0" y="689.2" width="2.1" height="1" fill="#8a8a8a"/>
<rect x="745.3" y="689.4" width="1.4" height="1" fill="#8a8a8a"/>
<rect x="775.4" y="693.4" width="1.6" height="1" fill="#8a8a8a"/>
<rect x="780.3" y="690.0" width="1.3" height="1" fill="#8a8a8a"/>
<rect x="868.7" y="690.9" width="1.1" height="1" fill="#8a8a8a"/>
<rect x="764.3" y="689.6" width="1.2" height="1" fill="#8a8a8a"/>
<rect x="719.5" y="691.9" width="1.8" height="1" fill="#8a8a8a"/>
<rect x="802.7" y="691.2" width="1.1" height="1" fill="#8a8a8a"/>
<rect x="808.5" y="689.3" width="1.6" height="1" fill="#8a8a8a"/>
<rect x="700.9" y="692.4" width="1.9" height="1" fill="#8a8a8a"/>
<rect x="647.6" y="692.2" width="1.8" height="1" fill="#8a8a8a"/>
<rect x="724.6" y="689.7" width="2.1" height="1" fill="#8a8a8a"/>
<rect x="766.9" y="689.3" width="1.3" height="1" fill="#8a8a8a"/>
<rect x="895.6" y="690.1" width="1.5" height="1" fill="#8a8a8a"/>
<rect x="829.6" y="693.1" width="1.8" height="1" fill="#8a8a8a"/>
<rect x="814.2" y="689.2" width="1.1" height="1" fill="#8a8a8a"/>
<rect x="892.1" y="693.0" width="1.0" height="1" fill="#8a8a8a"/>
<rect x="584.2" y="690.2" width="2.1" height="1" fill="#8a8a8a"/>
<rect x="640.9" y="692.4" width="2.1" height="1" fill="#8a8a8a"/>
<rect x="780.0" y="693.6" width="1.3" height="1" fill="#8a8a8a"/>
<rect x="618.9" y="689.1" width="1.9" height="1" fill="#8a8a8a"/>
<rect x="602.5" y="693.9" width="1.9" height="1" fill="#8a8a8a"/>
<rect x="630.1" y="693.0" width="1.2" height="1" fill="#8a8a8a"/>
<rect x="738.0" y="689.5" width="1.9" height="1" fill="#8a8a8a"/>
<rect x="863.4" y="693.6" width="1.0" height="1" fill="#8a8a8a"/>
<rect x="850.7" y="691.8" width="2.0" height="1" fill="#8a8a8a"/>
<rect x="734.8" y="692.1" width="1.7" height="1" fill="#8a8a8a"/>
<rect x="833.4" y="689.4" width="1.1" height="1" fill="#8a8a8a"/>
<rect x="749.1" y="690.5" width="1.5" height="1" fill="#8a8a8a"/>
<rect x="570.5" y="692.7" width="1.0" height="1" fill="#8a8a8a"/>
<rect x="843.4" y="693.1" width="1.5" height="1" fill="#8a8a8a"/>
<rect x="608.6" y="692.3" width="1.2" height="1" fill="#8a8a8a"/>
<rect x="710.4" y="689.6" width="2.2" height="1" fill="#8a8a8a"/>
<rect x="749.3" y="690.8" width="1.1" height="1" fill="#8a8a8a"/>
<rect x="810.4" y="693.2" width="2.0" height="1" fill="#8a8a8a"/>
<rect x="601.7" y="690.8" width="1.4" height="1" fill="#8a8a8a"/>
<rect x="821.1" y="689.7" width="1.7" height="1" fill="#8a8a8a"/>
<rect x="892.9" y="692.8" width="1.0" height="1" fill="#8a8a8a"/>
<rect x="592.9" y="689.6" width="1.8" height="1" fill="#8a8a8a"/>
<rect x="766.8" y="691.6" width="1.5" height="1" fill="#8a8a8a"/>
<rect x="703.3" y="692.1" width="1.8" height="1" fill="#8a8a8a"/>
<rect x="872.2" y="692.7" width="2.0" height="1" fill="#8a8a8a"/>
<rect x="871.1" y="693.2" width="1.9" height="1" fill="#8a8a8a"/>
<rect x="578.2" y="692.4" width="2.0" height="1" fill="#8a8a8a"/>
<rect x="711.0" y="693.4" width="1.2" height="1" fill="#8a8a8a"/>
<rect x="881.0" y="691.2" width="1.8" height="1" fill="#8a8a8a"/>
<rect x="651.9" y="690.5" width="1.4" height="1" fill="#8a8a8a"/>
<rect x="675.7" y="689.5" width="1.5" height="1" fill="#8a8a8a"/>
<rect x="893.7" y="692.3" width="2.1" height="1" fill="#8a8a8a"/>
<rect x="821.1" y="693.2" width="2.2" height="1" fill="#8a8a8a"/>
<rect x="817.9" y="690.4" width="1.3" height="1" fill="#8a8a8a"/>
<rect x="704.9" y="689.1" width="1.3" height="1" fill="#8a8a8a"/>
<rect x="862.2" y="693.6" width="1.4" height="1" fill="#8a8a8a"/>
<rect x="823.8" y="692.9" width="2.1" height="1" fill="#8a8a8a"/>
<rect x="831.8" y="691.7" width="1.1" height="1" fill="#8a8a8a"/>
<rect x="842.0" y="690.6" width="1.8" height="1" fill="#8a8a8a"/>
<rect x="689.9" y="691.7" width="2.2" height="1" fill="#8a8a8a"/>
<rect x="621.5" y="691.7" width="1.8" height="1" fill="#8a8a8a"/>
<rect x="746.8" y="693.7" width="1.5" height="1" fill="#8a8a8a"/>
<rect x="871.4" y="692.4" width="2.2" height="1" fill="#8a8a8a"/>
<rect x="597.8" y="690.1" width="1.3" height="1" fill="#8a8a8a"/>
<rect x="869.0" y="689.1" width="1.3" height="1" fill="#8a8a8a"/>
<rect x="805.6" y="693.9" width="1.2" height="1" fill="#8a8a8a"/>
<rect x="713.4" y="692.4" width="1.8" height="1" fill="#8a8a8a"/>
<rect x="70" y="538.3" width="498" height="5.400000000000091" fill="url(#h2)" stroke="#444" stroke-width="1"/>
<rect x="555.2" y="538.3" width="12.799999999999955" height="154.70000000000005" fill="url(#h2v)" stroke="#444" stroke-width="1"/>
<rect x="572" y="695" width="319" height="7" fill="url(#h2)" stroke="#444" stroke-width="1"/>
<rect x="552" y="687" width="20" height="16" fill="#f4f4f4" stroke="none" stroke-width="1"/>
<rect x="566.9" y="699.1" width="1.3" height="1" fill="#8a8a8a"/>
<rect x="557.1" y="687.4" width="1.8" height="1" fill="#8a8a8a"/>
<rect x="556.2" y="691.2" width="2.2" height="1" fill="#8a8a8a"/>
<rect x="564.9" y="696.5" width="1.8" height="1" fill="#8a8a8a"/>
<rect x="564.0" y="698.1" width="1.4" height="1" fill="#8a8a8a"/>
<rect x="553.3" y="688.1" width="1.0" height="1" fill="#8a8a8a"/>
<rect x="559.2" y="689.3" width="1.1" height="1" fill="#8a8a8a"/>
<rect x="561.9" y="702.5" width="1.8" height="1" fill="#8a8a8a"/>
<rect x="557.5" y="699.3" width="1.2" height="1" fill="#8a8a8a"/>
<rect x="554.0" y="691.9" width="1.5" height="1" fill="#8a8a8a"/>
<rect x="565.8" y="694.1" width="1.9" height="1" fill="#8a8a8a"/>
<rect x="553.9" y="701.9" width="1.4" height="1" fill="#8a8a8a"/>
<rect x="568.6" y="687.5" width="2.0" height="1" fill="#8a8a8a"/>
<rect x="556.5" y="700.7" width="2.0" height="1" fill="#8a8a8a"/>
<rect x="565.4" y="691.4" width="1.0" height="1" fill="#8a8a8a"/>
<rect x="555.8" y="701.5" width="1.2" height="1" fill="#8a8a8a"/>
<rect x="565.2" y="696.4" width="1.8" height="1" fill="#8a8a8a"/>
<rect x="555.6" y="689.3" width="1.1" height="1" fill="#8a8a8a"/>
<rect x="571.7" y="693.1" width="1.8" height="1" fill="#8a8a8a"/>
<rect x="563.4" y="690.6" width="1.1" height="1" fill="#8a8a8a"/>
<rect x="552.3" y="700.6" width="1.2" height="1" fill="#8a8a8a"/>
<rect x="571.3" y="692.8" width="1.9" height="1" fill="#8a8a8a"/>
<rect x="554.8" y="699.6" width="1.3" height="1" fill="#8a8a8a"/>
<rect x="559.3" y="695.4" width="1.1" height="1" fill="#8a8a8a"/>
<rect x="557.0" y="699.7" width="1.3" height="1" fill="#8a8a8a"/>
<rect x="559.6" y="699.2" width="1.3" height="1" fill="#8a8a8a"/>
<rect x="555.9" y="690.5" width="1.5" height="1" fill="#8a8a8a"/>
<rect x="559.3" y="697.3" width="1.6" height="1" fill="#8a8a8a"/>
<rect x="569.4" y="687.8" width="1.8" height="1" fill="#8a8a8a"/>
<rect x="568.7" y="690.8" width="1.0" height="1" fill="#8a8a8a"/>
<rect x="560.8" y="688.9" width="1.6" height="1" fill="#8a8a8a"/>
<rect x="566.2" y="688.5" width="1.1" height="1" fill="#8a8a8a"/>
<rect x="561.6" y="689.8" width="1.3" height="1" fill="#8a8a8a"/>
<rect x="560.8" y="688.9" width="1.1" height="1" fill="#8a8a8a"/>
<rect x="559.2" y="694.5" width="2.1" height="1" fill="#8a8a8a"/>
<rect x="563.1" y="688.1" width="1.3" height="1" fill="#8a8a8a"/>
<rect x="566.9" y="696.0" width="2.0" height="1" fill="#8a8a8a"/>
<rect x="571.2" y="700.7" width="1.1" height="1" fill="#8a8a8a"/>
<rect x="570.9" y="695.4" width="1.3" height="1" fill="#8a8a8a"/>
<rect x="555.4" y="700.8" width="1.3" height="1" fill="#8a8a8a"/>
<rect x="552" y="687" width="20" height="16" fill="none" stroke="#777" stroke-width="0.9"/>
<rect x="891" y="694" width="18" height="9" fill="#f4f4f4" stroke="none" stroke-width="1"/>
<rect x="892.5" y="696.4" width="2.1" height="1" fill="#8a8a8a"/>
<rect x="899.3" y="700.6" width="1.1" height="1" fill="#8a8a8a"/>
<rect x="899.2" y="696.9" width="1.2" height="1" fill="#8a8a8a"/>
<rect x="902.9" y="697.3" width="1.1" height="1" fill="#8a8a8a"/>
<rect x="908.7" y="698.3" width="1.2" height="1" fill="#8a8a8a"/>
<rect x="891.2" y="699.9" width="1.6" height="1" fill="#8a8a8a"/>
<rect x="891.4" y="698.2" width="1.9" height="1" fill="#8a8a8a"/>
<rect x="900.7" y="696.1" width="1.6" height="1" fill="#8a8a8a"/>
<rect x="901.9" y="699.9" width="1.2" height="1" fill="#8a8a8a"/>
<rect x="905.5" y="702.5" width="1.9" height="1" fill="#8a8a8a"/>
<rect x="906.4" y="697.3" width="2.1" height="1" fill="#8a8a8a"/>
<rect x="894.3" y="696.0" width="1.7" height="1" fill="#8a8a8a"/>
<rect x="907.2" y="694.7" width="1.3" height="1" fill="#8a8a8a"/>
<rect x="891.6" y="698.0" width="1.2" height="1" fill="#8a8a8a"/>
<rect x="894.4" y="700.7" width="1.7" height="1" fill="#8a8a8a"/>
<rect x="907.9" y="697.6" width="1.8" height="1" fill="#8a8a8a"/>
<rect x="891.2" y="702.5" width="1.3" height="1" fill="#8a8a8a"/>
<rect x="899.6" y="698.6" width="2.1" height="1" fill="#8a8a8a"/>
<rect x="899.9" y="702.9" width="1.7" height="1" fill="#8a8a8a"/>
<rect x="894.9" y="701.5" width="1.2" height="1" fill="#8a8a8a"/>
<rect x="909.0" y="698.1" width="1.3" height="1" fill="#8a8a8a"/>
<rect x="908.3" y="696.9" width="1.5" height="1" fill="#8a8a8a"/>
<rect x="897.2" y="700.0" width="1.0" height="1" fill="#8a8a8a"/>
<rect x="897.7" y="695.5" width="2.0" height="1" fill="#8a8a8a"/>
<rect x="891.0" y="699.5" width="1.3" height="1" fill="#8a8a8a"/>
<rect x="891" y="694" width="18" height="9" fill="none" stroke="#777" stroke-width="0.9"/>
<path d="M226,537 L236,537 L236,543.7 L245.3,543.7 L245.3,546 L218,546 L218,543.7 L226,543.7 Z" fill="#fff" stroke="#666" stroke-width="0.8"/>
<line x1="288.8" y1="522.7" x2="288.8" y2="533.5" stroke="#111" stroke-width="2.8"/>
<line x1="574" y1="564" x2="598" y2="564" stroke="#111" stroke-width="2.6"/>
<line x1="574" y1="666" x2="598" y2="666" stroke="#111" stroke-width="2.6"/>
<line x1="606" y1="679" x2="606" y2="691" stroke="#111" stroke-width="2.6"/>
<line x1="799" y1="679" x2="799" y2="691" stroke="#111" stroke-width="2.6"/>
<line x1="526" y1="517" x2="526" y2="533" stroke="#111" stroke-width="3.2"/>
<polyline points="188,534.8 188,441.3 378.4,441.3" stroke="#333" stroke-width="1.4" fill="none"/>
<circle cx="187.7" cy="534.8" r="2.3" fill="#111"/>
<polyline points="242.5,537.4 242.5,467.7 318,467.7" stroke="#333" stroke-width="1.4" fill="none"/>
<circle cx="242" cy="537.4" r="2.3" fill="#111"/>
<polyline points="526,531 526,458.2 767,458.2" stroke="#333" stroke-width="1.4" fill="none"/>
<polyline points="539.5,537 539.5,483.6 769,483.6" stroke="#333" stroke-width="1.4" fill="none"/>
<circle cx="539.5" cy="537" r="2.3" fill="#111"/>
<line x1="573.6" y1="542.7" x2="771" y2="542.7" stroke="#333" stroke-width="1.3"/>
<circle cx="573.6" cy="542.7" r="2.2" fill="#111"/>
<line x1="575" y1="592" x2="768.8" y2="592" stroke="#333" stroke-width="1.4"/>
<circle cx="575" cy="592" r="2.2" fill="#111"/>
<line x1="628" y1="628" x2="736" y2="628" stroke="#333" stroke-width="1.1"/>
<polyline points="266.3,542.8 266.3,569.6 355.7,569.6" stroke="#333" stroke-width="1.6" fill="none"/>
<circle cx="266.3" cy="542.8" r="2.3" fill="#111"/>
<polyline points="551.2,700 551.2,734.8 612,734.8" stroke="#333" stroke-width="1.4" fill="none"/>
<circle cx="551.2" cy="700" r="2.2" fill="#111"/>
<line x1="905.5" y1="704.4" x2="905.5" y2="730.7" stroke="#333" stroke-width="1.6"/>
<circle cx="905.5" cy="704.4" r="2.2" fill="#111"/>
<text transform="translate(388.0,443.2) scale(1.6,1)" x="0" y="0" font-size="15.5" font-weight="normal" textLength="42.7" lengthAdjust="spacing" class="lb">Screw</text>
<text transform="translate(321.0,472.5) scale(1.45,1)" x="0" y="0" font-size="17" font-weight="bold" textLength="125.2" lengthAdjust="spacing" class="lb" style="stroke-width:0.15px">I-bar trim strip</text>
<text transform="translate(782.7,458.0) scale(1.6,1)" x="0" y="0" font-size="15.5" font-weight="normal" textLength="106.4" lengthAdjust="spacing" class="lb">Expansion bolt</text>
<text transform="translate(780.5,488.0) scale(1.6,1)" x="0" y="0" font-size="15.5" font-weight="normal" textLength="138.4" lengthAdjust="spacing" class="lb">Structural adhesive</text>
<text transform="translate(774.5,548.0) scale(1.6,1)" x="0" y="0" font-size="15.5" font-weight="normal" textLength="138.4" lengthAdjust="spacing" class="lb">Structural adhesive</text>
<text transform="translate(779.0,594.0) scale(1.6,1)" x="0" y="0" font-size="15.5" font-weight="normal" textLength="94.4" lengthAdjust="spacing" class="lb">Leveling keel</text>
<text transform="translate(740.0,632.0) scale(1.4,1)" x="0" y="0" font-size="17.5" font-weight="bold" textLength="157.1" lengthAdjust="spacing" class="lb" style="stroke-width:0.15px">Construction wall</text>
<text transform="translate(352.9,566.0) scale(1.6,1)" x="0" y="0" font-size="15.5" font-weight="normal" textLength="96.9" lengthAdjust="spacing" class="lb">Sanle cement</text>
<text transform="translate(352.9,583.7) scale(1.6,1)" x="0" y="0" font-size="15.5" font-weight="normal" textLength="122.7" lengthAdjust="spacing" class="lb">decorative board</text>
<text transform="translate(630.0,740.8) scale(1.6,1)" x="0" y="0" font-size="15.5" font-weight="normal" textLength="111.7" lengthAdjust="spacing" class="lb">Angle trim strip</text>
<text transform="translate(849.0,741.2) scale(1.6,1)" x="0" y="0" font-size="15.5" font-weight="normal" textLength="150.4" lengthAdjust="spacing" class="lb">Edge cover trim strip</text>
<path d="M222.7,619 L307.5,580 L277.3,619 Z" fill="#372d2a"/>
<rect x="62.7" y="618" width="373.3" height="125.8" rx="23" ry="13" fill="#372d2a"/>
<rect x="116.4" y="625.1" width="266.4" height="115.8" fill="url(#bg1)"/>
<path d="M116.4,706 L343.6,716 L372,718 L372,734 L116.4,730Z" fill="url(#sh1)"/>
<path d="M338,652 Q360,640 382,633 M370,660 L382,670 M342,674 L382,674 M150,741 L200,718" stroke="#6f7276" stroke-width="1" fill="none"/>
<defs><linearGradient id="bl" x1="0" y1="0" x2="0.2" y2="1"><stop offset="0" stop-color="#2a8ccc"/><stop offset="0.5" stop-color="#1f8fd6"/><stop offset="1" stop-color="#2096dc"/></linearGradient></defs>
<path d="M116.4,693.8 L341,702.7 L343.6,704 L343.6,719.2 L116.4,709 Z" fill="#8b7f70"/>
<path d="M116.4,693.8 L341,702.7 L343.6,705 L116.4,697 Z" fill="#b3a68e"/>
<path d="M116.4,625.1 L334,625.1 L341,702.7 L116.4,693.8 Z" fill="url(#bl)"/>
<path d="M334,625.1 L336.5,625.1 L343.6,704 L341,702.7 Z" fill="#b3a68e"/>
<path d="M130,672 L180,676 M220,683 L300,690" stroke="#6fb8e6" stroke-width="1" opacity="0.15"/>
<line x1="116" y1="791" x2="166" y2="791" stroke="#eeeeee" stroke-width="1.5"/>
<line x1="961" y1="791" x2="977" y2="791" stroke="#eeeeee" stroke-width="1.5"/>
</svg>
</body></html>
